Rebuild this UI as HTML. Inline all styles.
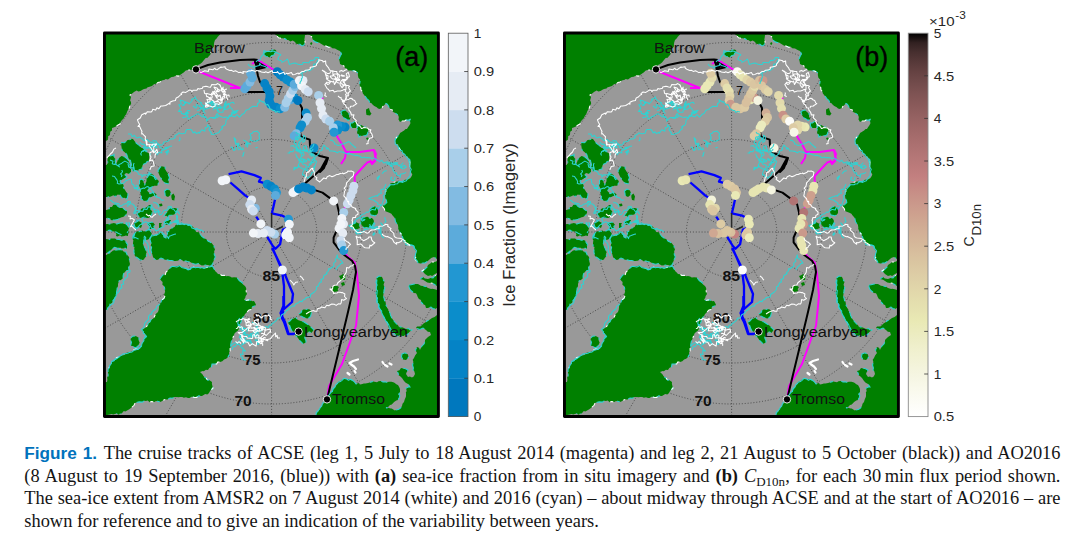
<!DOCTYPE html>
<html><head><meta charset="utf-8"><title>Figure 1</title>
<style>
html,body{margin:0;padding:0;background:#fff}
body{width:1080px;height:543px;position:relative;overflow:hidden;font-family:"Liberation Sans",sans-serif}

.cap{position:absolute;left:24.3px;width:1036.2px;height:22px;line-height:22px;font-family:"Liberation Serif",serif;font-size:18.4px;color:#141414;text-align:justify;text-align-last:justify;white-space:normal;overflow:visible}
.cap b.f{font-family:"Liberation Sans",sans-serif;font-weight:bold;font-size:17.2px;color:#0072bc;margin-right:1.2px}
.cap sub{font-size:13px;vertical-align:-3.5px;line-height:0}

</style></head><body>
<svg width="1080" height="543" viewBox="0 0 1080 543" style="position:absolute;left:0;top:0" font-family="'Liberation Sans', sans-serif">
<defs><clipPath id="clip"><rect x="105.0" y="33.5" width="333.3" height="382.5"/></clipPath>
<clipPath id="clipin"><rect x="107.5" y="36.0" width="328.3" height="377.5"/></clipPath>
<g id="base" clip-path="url(#clip)"><rect x="105.0" y="33.5" width="333.3" height="382.5" fill="#999999"/>
<g fill="none" stroke="#222" stroke-width="0.8" stroke-dasharray="1 1.9" opacity="0.8"><circle cx="271.6" cy="232.0" r="45.2"/><circle cx="271.6" cy="229.8" r="90.4"/><circle cx="271.6" cy="227.5" r="135.5"/><circle cx="271.6" cy="223.2" r="180.8"/><line x1="271.6" y1="232.0" x2="271.6" y2="562.0"/><line x1="271.6" y1="232.0" x2="436.6" y2="517.8"/><line x1="271.6" y1="232.0" x2="557.4" y2="397.0"/><line x1="271.6" y1="232.0" x2="601.6" y2="232.0"/><line x1="271.6" y1="232.0" x2="557.4" y2="67.0"/><line x1="271.6" y1="232.0" x2="436.6" y2="-53.8"/><line x1="271.6" y1="232.0" x2="271.6" y2="-98.0"/><line x1="271.6" y1="232.0" x2="106.6" y2="-53.8"/><line x1="271.6" y1="232.0" x2="-14.2" y2="67.0"/><line x1="271.6" y1="232.0" x2="-58.4" y2="232.0"/><line x1="271.6" y1="232.0" x2="-14.2" y2="397.0"/><line x1="271.6" y1="232.0" x2="106.6" y2="517.8"/></g>
<path d="M100.0 30.0 L220.0 30.0 L220.0 34.5 L218.0 36.6 L216.4 38.8 L215.0 40.0 L214.2 42.5 L213.9 44.7 L214.0 46.3 L212.9 47.9 L212.0 50.0 L210.7 51.8 L210.3 54.8 L209.0 56.0 L207.7 57.8 L205.7 58.1 L204.0 60.0 L202.0 62.4 L199.8 64.2 L198.0 65.0 L197.4 67.5 L196.0 69.0 L193.8 70.0 L191.3 70.1 L190.3 70.0 L188.0 70.0 L185.8 70.6 L183.7 72.4 L182.9 72.9 L180.0 75.0 L178.4 76.1 L175.5 75.7 L173.8 76.8 L171.6 77.1 L170.0 78.0 L168.0 79.4 L165.6 79.1 L164.8 79.7 L161.8 80.5 L160.0 82.0 L157.9 82.4 L156.8 83.6 L153.9 84.3 L152.0 86.0 L150.4 86.4 L147.2 87.6 L146.6 88.4 L144.0 89.0 L142.9 89.5 L140.5 90.9 L138.3 91.5 L136.7 90.6 L134.0 92.0 L131.9 93.8 L130.0 95.0 L131.0 97.2 L130.1 100.5 L131.0 102.0 L131.1 103.7 L129.7 106.3 L129.5 107.6 L128.0 110.0 L127.4 111.1 L126.2 114.3 L124.8 116.0 L124.0 118.0 L122.1 120.0 L120.9 121.3 L120.0 124.0 L118.1 124.9 L115.4 126.8 L113.6 127.6 L112.0 128.0 L112.0 130.6 L110.2 131.8 L110.0 135.0 L108.0 136.6 L107.9 139.7 L106.0 141.0 L100.0 141.0 Z M263.5 54.0 L266.0 51.5 L268.0 51.4 L270.0 50.5 L273.4 49.7 L275.0 49.5 L276.5 51.0 L274.5 53.4 L274.0 55.0 L271.6 55.6 L270.0 57.5 L267.8 56.7 L266.0 56.5 Z M275.0 30.0 L275.0 34.5 L276.5 35.0 L278.4 37.7 L280.0 38.0 L281.8 38.3 L284.8 38.5 L287.0 40.0 L288.3 40.0 L290.4 41.5 L292.7 40.6 L295.0 42.0 L296.1 43.7 L297.8 44.1 L300.0 44.3 L302.0 46.0 L303.8 45.2 L305.0 43.0 L305.0 40.9 L304.3 39.5 L304.7 37.8 L305.0 35.0 L307.7 34.4 L310.0 35.0 L311.7 36.7 L313.0 40.0 L314.6 41.5 L317.0 42.6 L319.0 42.5 L321.4 43.9 L324.2 45.7 L326.0 46.0 L329.0 47.4 L330.5 46.4 L332.2 48.3 L335.0 48.5 L337.6 49.9 L340.0 51.0 L341.5 54.0 L340.4 55.7 L339.0 59.0 L339.8 62.3 L340.0 64.0 L342.5 65.2 L344.1 66.2 L345.0 68.0 L346.7 68.4 L348.4 70.5 L351.0 70.5 L353.5 70.7 L355.6 71.4 L358.0 73.0 L357.8 74.9 L358.4 77.7 L360.1 79.4 L360.0 82.0 L359.6 84.3 L359.8 86.5 L360.7 87.2 L361.0 90.0 L362.5 91.7 L362.9 93.6 L364.1 95.1 L366.1 97.6 L367.0 99.0 L368.8 100.4 L369.8 102.7 L371.2 103.1 L373.0 105.0 L374.3 106.1 L376.7 107.3 L378.0 108.5 L379.6 108.9 L382.0 108.0 L382.6 106.7 L384.1 105.3 L386.0 103.5 L387.5 104.4 L389.0 107.0 L390.5 109.4 L392.1 109.8 L393.0 112.0 L394.8 112.7 L398.0 115.0 L398.8 116.9 L398.5 119.4 L400.0 122.0 L401.7 120.9 L404.7 121.0 L406.0 120.0 L408.6 120.1 L410.5 119.0 L409.6 120.4 L410.5 123.0 L409.6 125.0 L407.7 127.7 L407.0 129.0 L405.6 129.1 L404.1 130.6 L401.3 132.2 L400.0 133.0 L399.5 134.3 L397.6 136.5 L396.0 138.0 L395.0 141.0 L395.9 143.7 L398.0 144.2 L399.0 147.8 L400.3 149.6 L400.6 151.0 L402.8 152.4 L404.3 153.2 L405.0 156.3 L407.3 156.2 L409.0 158.4 L410.0 160.1 L409.8 163.5 L409.6 166.1 L410.7 167.6 L410.1 169.9 L410.7 171.4 L412.3 174.5 L411.7 175.9 L410.2 178.3 L408.0 179.6 L404.9 179.7 L402.5 181.4 L400.0 181.4 L397.0 181.4 L394.2 182.2 L392.7 182.9 L390.5 183.3 L389.7 185.5 L387.5 187.8 L385.9 188.8 L385.8 191.4 L386.1 192.8 L385.0 195.2 L385.3 197.9 L386.4 200.5 L386.8 202.6 L384.9 204.3 L382.2 206.3 L384.2 208.5 L385.0 210.9 L386.8 211.7 L389.4 212.8 L391.4 213.7 L392.6 215.5 L394.4 217.4 L395.0 219.2 L395.5 221.9 L396.4 223.1 L397.9 224.7 L398.3 227.6 L398.2 228.8 L399.7 232.0 L401.7 234.7 L402.0 236.0 L403.2 238.7 L403.8 239.8 L404.5 242.0 L406.0 244.0 L408.5 245.2 L410.4 244.9 L412.5 245.2 L414.0 246.0 L414.7 249.3 L416.0 251.0 L416.3 253.0 L415.9 254.6 L416.1 256.6 L415.0 259.0 L416.3 260.9 L418.0 263.0 L420.5 263.4 L423.1 263.1 L425.0 263.0 L426.4 262.0 L428.7 260.2 L430.0 259.0 L431.7 257.8 L434.0 257.0 L437.0 259.0 L437.0 261.0 L434.9 261.9 L432.0 262.0 L430.6 263.2 L428.0 265.0 L427.2 267.0 L425.0 269.0 L422.0 271.0 L423.1 271.7 L425.0 274.0 L428.0 276.0 L430.8 275.3 L432.0 276.0 L435.0 274.0 L437.0 273.0 L437.0 275.0 L434.8 275.8 L433.0 278.0 L431.3 277.7 L428.0 279.0 L424.8 278.4 L423.0 277.0 L420.0 279.0 L423.1 279.8 L425.0 281.0 L427.3 282.6 L430.0 283.0 L432.3 283.2 L434.2 284.3 L437.0 286.0 L440.1 286.3 L442.0 286.0 L442.0 30.0 Z M311.0 42.0 L312.5 43.0 L311.5 45.0 L310.0 44.0 Z M409.0 285.0 L411.0 284.7 L414.0 284.0 L415.3 284.0 L418.0 284.0 L420.9 285.7 L423.0 286.0 L425.8 286.4 L428.0 288.0 L431.1 289.1 L432.1 288.8 L434.9 289.3 L437.0 290.0 L438.9 289.6 L442.0 290.0 L442.0 308.0 L440.2 308.5 L437.0 308.0 L435.0 309.0 L432.6 308.4 L431.0 307.0 L427.8 308.0 L426.0 308.0 L425.2 305.3 L423.0 304.0 L421.3 302.4 L421.0 300.0 L418.9 299.1 L417.7 296.9 L417.0 295.0 L416.0 293.2 L413.9 293.0 L411.5 291.0 L409.8 289.2 L408.9 286.7 Z M442.0 315.0 L439.3 315.3 L437.0 315.0 L434.6 317.0 L432.0 318.0 L429.6 319.7 L427.2 320.8 L426.0 322.0 L423.8 323.3 L422.0 325.0 L420.4 326.6 L417.0 326.5 L416.0 328.0 L418.6 329.1 L420.0 329.5 L423.0 328.0 L426.0 330.0 L427.8 331.7 L430.0 332.0 L431.0 335.0 L428.0 337.0 L425.7 339.2 L425.0 340.0 L424.9 341.9 L424.0 344.0 L422.0 346.0 L421.1 347.4 L420.0 350.0 L419.0 347.7 L417.0 347.0 L415.5 350.0 L417.0 353.0 L415.1 355.5 L414.0 358.0 L412.7 359.7 L413.4 362.0 L412.5 365.0 L413.4 368.0 L413.0 370.0 L414.3 371.3 L415.0 374.0 L413.7 376.5 L412.0 377.5 L409.9 376.5 L408.0 377.0 L406.0 374.0 L406.5 372.5 L408.0 370.0 L405.0 368.5 L403.2 368.5 L401.0 368.0 L399.5 370.3 L397.0 371.0 L398.0 373.0 L398.8 375.5 L399.9 376.1 L402.0 378.0 L404.0 381.0 L405.7 382.8 L408.0 384.0 L410.0 387.0 L408.6 387.0 L406.0 388.0 L406.7 390.9 L405.8 392.6 L406.0 393.3 L406.0 396.0 L405.8 397.1 L404.8 399.2 L404.0 402.1 L402.5 403.7 L402.0 406.0 L400.7 408.0 L398.8 409.3 L396.0 410.0 L394.8 410.4 L391.7 408.6 L390.8 408.5 L388.1 407.7 L386.0 408.0 L388.1 407.1 L390.0 405.0 L391.8 404.6 L394.1 402.0 L396.3 400.6 L398.0 400.0 L399.3 397.4 L399.9 395.7 L398.7 394.3 L400.0 392.0 L400.0 389.0 L399.4 387.6 L398.0 385.0 L396.7 384.6 L394.0 382.5 L391.5 381.8 L388.9 381.8 L387.0 382.2 L385.5 381.9 L383.0 382.0 L380.5 381.0 L378.5 381.3 L377.0 382.3 L375.8 381.9 L373.0 381.5 L371.3 381.9 L368.0 383.0 L365.4 383.6 L363.9 383.6 L361.4 384.2 L360.0 384.5 L358.5 383.1 L356.0 384.0 L354.1 381.5 L352.0 380.0 L349.1 379.3 L347.5 378.9 L345.1 379.2 L344.0 379.0 L342.2 379.5 L339.7 381.5 L338.0 382.0 L337.5 383.6 L335.9 385.9 L334.0 388.0 L332.6 389.1 L332.5 391.2 L330.8 393.1 L328.8 394.2 L328.0 397.2 L326.5 398.9 L326.0 400.0 L324.3 401.4 L324.3 402.5 L322.5 404.5 L321.6 407.0 L320.0 408.0 L319.4 409.3 L318.5 411.5 L316.5 412.4 L316.0 415.0 L316.0 420.0 L442.0 420.0 Z M402.0 354.0 L405.0 352.8 L408.0 354.5 L408.5 357.5 L406.0 360.0 L403.0 359.5 L401.5 357.0 Z M376.5 278.0 L379.0 276.0 L382.0 277.0 L382.9 279.0 L384.5 282.0 L383.6 284.6 L383.8 285.6 L384.9 287.9 L384.0 290.0 L384.0 291.3 L383.6 293.8 L383.2 295.5 L384.0 298.0 L384.6 300.9 L385.6 302.1 L386.0 305.0 L387.2 307.9 L388.3 309.2 L388.2 310.2 L390.0 313.0 L390.4 314.9 L391.7 317.8 L392.4 319.1 L394.0 321.0 L395.2 322.5 L398.2 325.5 L399.0 327.0 L400.5 326.8 L403.4 327.8 L406.0 329.0 L408.7 328.5 L409.8 329.8 L412.0 330.0 L409.3 332.0 L408.0 334.0 L406.0 334.7 L404.0 336.0 L402.6 335.9 L400.5 335.5 L398.0 336.0 L395.9 335.0 L393.2 332.7 L392.0 332.0 L390.6 330.8 L389.2 328.4 L388.4 326.7 L388.0 325.0 L387.4 322.4 L385.3 320.6 L385.7 319.1 L384.0 317.0 L382.7 314.7 L381.3 312.3 L380.8 310.7 L380.0 309.0 L378.5 306.8 L379.3 304.2 L377.6 302.4 L377.0 300.0 L377.4 298.3 L376.8 296.3 L375.9 294.8 L376.0 291.5 L376.5 290.0 L376.7 288.0 L376.6 285.8 L376.8 284.3 L375.8 282.2 L376.9 280.5 Z M341.0 111.5 L342.5 110.8 L345.0 110.0 L347.2 112.3 L349.0 113.5 L349.0 116.7 L350.5 119.0 L348.0 120.5 L346.0 118.9 L344.0 118.0 L342.2 115.4 L341.3 113.2 Z M366.0 109.5 L369.0 108.0 L369.5 110.1 L370.4 112.3 L371.5 113.5 L370.0 115.5 L366.5 115.0 L366.1 112.7 Z M350.5 123.0 L352.4 122.9 L355.0 121.0 L357.5 124.0 L356.7 125.7 L356.0 128.0 L354.9 127.9 L352.0 128.0 L350.4 126.0 Z M357.0 128.0 L358.2 125.9 L361.0 125.0 L362.2 125.4 L364.2 127.0 L367.0 127.0 L368.3 129.8 L368.0 132.0 L367.1 134.7 L365.0 136.0 L363.8 135.6 L360.6 135.9 L359.0 137.0 L358.6 135.1 L357.0 133.0 L357.3 131.4 Z M366.0 138.0 L368.0 137.5 L369.0 139.0 L367.0 140.0 Z M370.0 209.0 L372.2 207.1 L374.0 206.5 L375.1 206.4 L378.0 208.0 L378.0 209.9 L378.0 213.0 L377.1 214.3 L375.0 216.0 L373.8 215.6 L371.0 215.0 L370.3 213.1 L370.0 210.6 Z M361.0 219.0 L363.1 217.3 L366.0 217.0 L367.4 216.8 L369.7 218.2 L372.0 218.0 L373.7 219.9 L374.0 223.0 L371.9 226.2 L371.0 228.0 L369.4 227.8 L367.1 227.5 L364.0 228.0 L362.9 226.6 L361.0 224.0 L360.5 221.4 Z M352.0 224.0 L354.8 223.5 L356.0 222.0 L358.8 223.5 L360.0 224.0 L359.1 225.9 L360.0 228.0 L357.4 229.1 L356.0 230.0 L353.5 229.1 L352.0 228.0 L351.7 226.6 Z M339.0 276.0 L341.1 275.3 L343.0 274.0 L346.0 276.0 L345.5 277.3 L345.0 280.0 L342.8 279.7 L341.0 281.0 L340.2 278.3 Z M331.0 287.0 L333.4 286.7 L335.0 285.0 L336.5 285.4 L339.0 287.0 L337.8 289.1 L338.0 291.0 L335.6 291.8 L333.0 292.0 L332.3 289.2 Z M341.0 283.0 L344.0 282.0 L345.0 285.0 L342.0 286.0 Z M288.3 321.8 L289.9 321.0 L291.8 318.9 L293.2 318.8 L295.8 317.4 L297.8 319.9 L300.8 320.9 L303.7 321.8 L306.7 323.8 L308.8 325.0 L310.7 326.8 L313.1 329.0 L313.7 329.8 L311.7 332.8 L308.7 331.8 L305.7 333.8 L305.4 336.2 L304.7 337.7 L306.1 341.0 L305.7 342.7 L302.8 343.7 L301.4 342.2 L299.8 340.7 L297.8 337.7 L295.8 335.8 L294.2 333.8 L293.9 331.7 L291.8 330.8 L290.6 328.3 L289.8 325.8 L288.2 323.1 Z M160.0 279.0 L160.6 278.0 L163.1 274.7 L165.3 274.6 L166.0 272.0 L167.8 270.5 L169.8 268.4 L171.0 267.0 L173.8 265.9 L176.0 266.6 L178.3 265.7 L180.0 266.0 L181.5 266.9 L183.6 267.8 L186.5 268.5 L188.0 270.0 L190.4 269.2 L191.5 268.0 L194.0 267.0 L195.9 267.5 L198.6 267.8 L200.3 268.3 L202.3 267.8 L204.0 268.0 L206.9 267.4 L208.1 266.8 L209.4 266.8 L212.0 266.0 L213.1 267.2 L214.0 268.7 L215.3 271.3 L216.7 272.6 L218.0 274.0 L220.0 274.2 L221.9 275.5 L224.4 275.3 L226.3 276.3 L228.0 276.0 L230.1 276.5 L231.8 277.6 L234.1 277.3 L236.9 277.6 L238.0 279.0 L239.2 280.5 L242.3 282.7 L242.8 284.3 L245.0 286.0 L246.2 288.0 L246.1 290.1 L246.3 291.9 L247.0 294.0 L245.5 296.3 L245.6 297.1 L244.0 300.0 L246.4 300.4 L247.7 300.0 L250.0 299.9 L252.5 301.3 L254.0 301.0 L255.2 302.9 L256.0 305.0 L254.5 305.9 L251.7 307.3 L251.6 309.5 L249.0 310.0 L246.5 312.4 L244.9 314.3 L244.0 316.0 L242.2 318.3 L241.2 319.9 L241.2 321.8 L240.0 324.0 L238.5 325.6 L238.8 328.9 L237.8 330.7 L236.0 332.0 L234.5 333.6 L233.7 336.1 L232.8 337.7 L232.0 340.0 L231.3 341.5 L230.7 344.5 L231.0 345.8 L230.0 348.0 L230.2 351.1 L229.1 352.0 L229.2 354.8 L228.0 357.0 L226.2 358.8 L224.1 359.4 L222.3 361.3 L220.0 362.0 L217.7 362.0 L216.7 363.9 L213.6 363.9 L212.0 364.0 L211.5 366.7 L209.3 368.1 L208.0 370.0 L205.9 369.7 L203.9 371.3 L202.7 370.9 L200.0 372.0 L202.4 374.2 L203.3 375.8 L204.5 377.2 L206.0 378.0 L207.7 380.2 L209.1 379.9 L212.0 382.0 L211.9 383.8 L212.6 386.7 L213.0 388.0 L211.1 390.1 L210.3 390.6 L209.0 393.0 L207.3 394.4 L205.2 394.1 L202.0 395.9 L200.0 396.0 L198.7 395.9 L196.6 397.4 L194.6 397.5 L191.4 396.8 L189.6 397.9 L188.0 398.0 L186.0 397.2 L183.9 397.8 L182.2 397.1 L180.0 397.0 L178.7 397.2 L176.2 396.9 L174.6 397.1 L172.4 398.2 L170.0 398.0 L167.5 399.5 L165.7 399.4 L163.8 400.1 L161.3 401.6 L160.0 402.0 L158.6 401.5 L156.0 401.0 L154.3 402.0 L151.2 401.6 L149.7 402.2 L147.7 400.4 L146.0 401.0 L144.3 400.8 L142.4 402.1 L139.1 401.9 L137.3 402.2 L135.0 403.0 L134.1 405.3 L132.0 407.1 L130.0 408.7 L128.0 410.0 L125.3 411.5 L123.8 411.1 L121.7 413.5 L120.0 414.0 L118.4 414.8 L116.5 413.5 L113.3 414.5 L111.5 413.9 L109.8 414.5 L107.0 415.0 L100.0 420.0 L100.0 382.0 L101.6 382.2 L104.6 382.2 L107.0 382.0 L107.4 379.8 L107.1 377.4 L108.1 375.8 L108.0 373.8 L108.0 372.0 L107.9 369.7 L108.7 368.0 L110.2 366.1 L110.5 364.8 L112.0 362.0 L113.9 360.8 L115.2 359.2 L116.6 357.7 L118.8 357.0 L120.0 356.0 L122.9 355.2 L124.7 355.1 L125.8 353.0 L127.8 352.5 L130.0 352.0 L132.8 351.3 L133.4 350.2 L135.5 349.1 L138.2 349.2 L140.0 348.0 L140.2 346.8 L142.2 343.7 L143.4 341.2 L143.9 340.6 L144.6 337.2 L146.0 336.0 L144.9 333.6 L143.4 332.4 L142.0 330.0 L143.8 328.7 L145.8 327.5 L147.7 325.0 L148.3 323.0 L150.0 322.0 L151.1 319.6 L152.9 319.1 L154.0 317.5 L155.3 314.5 L156.6 313.3 L158.0 312.0 L158.7 309.7 L158.8 308.9 L159.2 305.6 L160.0 304.0 L160.9 302.3 L161.7 300.0 L163.9 298.5 L165.0 296.0 L164.0 294.9 L165.1 291.8 L164.9 290.4 L164.5 287.5 L164.0 286.0 L162.4 284.7 L162.6 281.9 L161.5 281.0 Z M131.0 338.0 L132.6 336.2 L135.0 336.0 L136.8 336.4 L139.0 338.0 L138.7 340.7 L139.7 342.6 L139.0 344.0 L137.8 346.5 L135.0 348.0 L132.8 346.1 L131.0 346.0 L130.9 343.8 L131.5 342.8 L130.6 339.6 Z M150.0 239.0 L150.7 237.7 L152.0 235.0 L154.8 235.5 L156.0 236.0 L157.9 234.0 L160.0 232.0 L160.6 232.9 L163.5 234.9 L163.9 236.9 L166.0 238.0 L167.2 236.0 L167.5 233.3 L167.0 232.0 L169.4 231.2 L169.6 229.7 L172.0 228.0 L174.6 227.1 L175.5 225.0 L178.0 224.0 L179.6 224.4 L181.2 224.3 L184.0 224.0 L186.0 224.2 L188.3 225.5 L190.0 225.0 L192.8 226.7 L194.0 228.0 L195.6 229.7 L196.0 232.0 L198.8 232.3 L200.0 234.0 L201.8 236.4 L204.0 238.0 L206.6 239.4 L208.2 241.2 L210.0 242.0 L211.6 243.1 L214.0 246.0 L214.5 248.5 L215.0 249.5 L214.2 251.3 L214.3 254.9 L215.2 256.1 L215.0 258.0 L214.1 259.5 L212.9 262.8 L212.9 263.7 L211.0 266.0 L208.0 265.0 L206.2 265.1 L204.4 265.2 L201.7 265.5 L200.0 264.5 L198.5 263.5 L195.8 264.3 L193.5 263.8 L192.0 263.0 L189.7 261.7 L187.9 261.7 L186.0 261.0 L183.1 261.2 L182.4 260.3 L180.0 259.5 L177.7 260.7 L175.2 261.0 L174.0 261.0 L171.6 260.4 L169.5 260.4 L168.0 260.0 L165.3 259.7 L163.9 259.2 L161.0 258.0 L159.3 258.9 L157.0 260.0 L154.8 259.3 L153.0 257.0 L152.3 254.2 L151.5 252.3 L151.0 250.0 L151.6 247.3 L150.7 246.0 L151.2 243.2 L150.3 241.0 Z M133.0 236.0 L133.9 234.4 L136.0 232.0 L137.7 231.3 L140.8 231.3 L142.0 231.5 L143.3 233.9 L144.0 236.0 L144.3 238.7 L143.7 240.5 L143.7 242.6 L143.0 244.0 L143.7 245.9 L144.7 247.3 L146.0 250.0 L146.6 252.7 L146.0 253.7 L146.5 256.0 L144.4 258.5 L144.0 259.5 L142.4 260.0 L140.0 260.0 L138.0 258.2 L136.0 257.0 L134.7 255.6 L133.9 252.0 L134.0 250.0 L134.5 246.9 L133.1 246.2 L133.0 243.0 L133.4 240.2 L132.5 238.9 Z M100.0 239.0 L102.9 238.7 L104.5 239.2 L106.5 239.0 L109.0 239.6 L110.6 238.6 L112.5 238.4 L115.0 238.5 L116.2 239.2 L119.3 239.4 L121.3 240.2 L123.0 240.0 L125.1 240.6 L126.7 243.5 L127.5 244.0 L127.0 246.3 L127.0 249.0 L125.4 248.3 L121.6 248.6 L120.0 247.5 L118.2 248.4 L114.6 247.3 L113.0 248.5 L111.5 249.6 L109.4 251.7 L106.5 253.0 L103.8 253.8 L102.5 253.5 L100.0 253.0 Z M100.0 255.0 L102.4 255.3 L103.5 254.7 L106.5 255.0 L108.6 253.3 L110.4 252.7 L113.0 250.5 L114.5 250.2 L118.4 249.8 L120.0 249.5 L122.1 249.9 L123.4 251.4 L126.0 252.0 L127.3 255.1 L129.0 257.0 L129.5 259.7 L129.2 260.9 L130.0 264.0 L129.3 265.9 L128.6 267.6 L129.0 270.0 L125.8 271.0 L124.0 273.0 L123.2 275.0 L123.0 278.0 L121.5 279.5 L119.0 281.0 L118.0 284.0 L118.0 286.0 L117.1 288.5 L117.0 289.8 L116.5 292.2 L116.6 294.4 L116.0 296.0 L115.0 297.4 L114.0 299.4 L113.0 300.6 L112.0 303.0 L110.0 304.0 L109.7 305.7 L107.5 308.0 L107.0 310.0 L104.1 310.1 L101.7 310.8 L100.0 310.0 Z M121.5 142.5 L124.3 142.7 L125.9 141.7 L127.6 140.1 L129.7 139.8 L131.5 138.7 L133.0 139.0 L134.1 140.4 L136.5 143.4 L138.9 145.1 L140.0 146.0 L141.3 147.8 L143.4 148.5 L145.2 150.3 L146.0 151.5 L148.2 153.0 L150.5 154.0 L149.1 156.1 L149.2 158.0 L149.0 161.0 L146.9 161.6 L145.9 163.1 L143.0 164.5 L142.3 165.9 L142.0 169.0 L138.9 169.8 L138.3 170.5 L135.7 170.0 L133.0 171.5 L132.1 169.8 L131.1 166.7 L131.4 164.4 L131.0 163.0 L130.5 160.5 L129.0 159.1 L127.2 156.2 L127.0 155.0 L125.5 152.9 L123.2 151.1 L122.0 150.0 L121.5 147.1 L121.2 144.9 Z M100.0 165.0 L102.0 165.1 L104.9 164.9 L106.5 165.0 L107.8 163.3 L107.5 160.0 L107.9 157.1 L110.0 156.0 L112.9 155.2 L114.0 154.5 L114.1 157.6 L115.5 159.0 L115.2 161.5 L116.0 164.0 L117.1 161.9 L118.0 159.0 L119.3 157.8 L121.5 156.0 L125.0 157.0 L128.0 159.5 L129.3 162.7 L130.0 165.0 L130.0 166.9 L131.0 169.1 L131.0 172.0 L129.5 174.0 L126.0 173.0 L124.5 174.5 L127.0 177.0 L124.9 178.6 L123.0 179.0 L120.0 181.0 L120.7 182.9 L123.0 184.0 L123.7 185.8 L123.5 187.7 L125.0 190.0 L126.2 192.0 L128.0 194.0 L127.8 195.9 L127.0 199.0 L124.5 197.8 L122.0 198.0 L120.0 195.0 L117.7 194.5 L115.5 196.4 L113.2 195.3 L112.0 196.0 L110.0 196.8 L106.5 197.0 L104.4 197.1 L101.7 196.4 L100.0 197.0 Z M158.0 170.6 L159.9 167.7 L161.6 166.2 L165.0 167.0 L165.3 169.8 L166.3 171.2 L167.8 173.3 L168.6 175.4 L169.5 177.7 L168.4 180.4 L168.9 182.1 L168.2 183.9 L165.0 183.0 L162.5 180.4 L160.9 178.0 L159.8 176.0 L158.4 172.7 Z M139.5 180.4 L141.2 179.0 L143.5 180.4 L143.4 182.0 L144.8 184.8 L146.5 181.2 L146.6 178.6 L148.3 175.9 L150.5 173.3 L153.6 175.0 L154.5 176.7 L156.3 178.6 L158.4 180.4 L158.9 182.1 L157.2 185.7 L154.1 185.8 L152.7 186.5 L149.2 188.3 L147.4 191.0 L150.0 193.6 L153.6 192.3 L156.3 194.0 L156.7 196.3 L154.8 195.6 L152.7 196.3 L149.2 198.0 L147.4 201.2 L143.9 200.7 L141.2 199.0 L141.4 196.2 L140.4 193.6 L140.3 191.3 L140.8 189.2 L139.5 186.8 L139.0 184.8 L139.6 183.0 Z M164.5 191.0 L167.0 189.0 L170.0 190.5 L171.0 193.3 L170.5 195.0 L168.0 197.0 L165.0 195.5 L165.1 194.1 Z M100.0 210.0 L101.5 210.2 L103.6 210.0 L106.5 210.0 L108.7 209.3 L110.0 207.0 L112.0 206.9 L113.2 205.0 L116.0 204.0 L117.6 206.0 L119.0 207.0 L120.2 208.0 L123.0 208.0 L125.3 210.1 L127.0 211.0 L127.1 212.4 L126.0 215.0 L123.1 216.9 L121.6 217.3 L120.0 218.0 L117.6 219.6 L115.0 220.0 L111.6 220.2 L110.0 219.0 L106.5 218.0 L104.5 218.6 L102.3 217.5 L100.0 218.0 Z M137.0 214.0 L139.0 212.0 L140.0 211.0 L141.1 209.0 L143.0 208.0 L145.1 208.0 L147.0 207.0 L149.0 205.0 L152.0 205.0 L150.7 207.6 L151.0 210.0 L152.3 211.4 L152.0 214.0 L150.0 217.0 L148.3 218.0 L145.0 218.0 L141.6 217.4 L140.0 218.0 L137.9 215.3 Z M159.0 204.0 L162.0 203.5 L162.5 206.0 L159.5 206.5 Z M164.0 216.0 L165.3 214.0 L167.0 212.0 L168.3 210.6 L170.0 208.0 L171.6 207.9 L175.0 208.0 L178.0 209.0 L176.9 210.4 L176.0 213.0 L174.1 214.5 L172.0 215.0 L169.2 215.2 L168.0 217.0 L166.3 215.8 Z M164.0 222.0 L165.3 221.3 L168.0 220.0 L171.0 220.0 L170.0 223.0 L167.6 224.4 L166.0 225.0 Z M159.0 223.0 L162.0 223.0 L161.1 224.7 L162.0 228.0 L159.0 228.0 L159.0 225.4 Z M148.0 223.0 L150.1 222.5 L152.0 222.0 L153.4 222.8 L155.0 225.0 L153.9 226.4 L154.0 229.0 L152.2 229.1 L149.0 229.0 L149.5 226.7 L147.4 224.4 Z M134.0 223.0 L135.2 222.8 L138.0 221.0 L139.4 221.4 L142.0 223.0 L141.9 225.8 L141.0 228.0 L139.0 227.1 L136.0 228.0 L134.7 226.3 Z M100.0 224.0 L102.2 223.6 L104.9 224.8 L106.5 224.0 L109.5 224.0 L112.0 223.5 L113.9 223.0 L116.9 224.1 L117.4 223.8 L120.0 223.0 L122.9 222.9 L123.7 224.0 L126.0 224.0 L127.6 225.4 L129.0 228.0 L128.0 231.4 L127.0 233.0 L124.2 233.7 L122.0 235.0 L119.7 233.9 L118.1 233.2 L116.0 232.0 L114.8 231.6 L111.6 231.2 L110.0 230.0 L106.5 231.0 L104.1 231.3 L102.1 230.5 L100.0 231.0 Z M134.0 238.0 L134.0 236.4 L135.0 233.0 L138.1 232.6 L140.0 231.0 L142.8 230.4 L143.2 231.5 L146.0 231.0 L148.0 229.7 L150.0 230.0 L150.5 231.4 L152.0 234.0 L151.7 235.4 L150.0 238.0 L148.2 239.6 L146.0 240.0 L143.1 240.4 L141.7 238.7 L140.0 239.0 L137.8 238.8 L135.4 237.5 Z M116.0 230.0 L118.1 229.3 L120.4 230.1 L122.2 229.5 L124.3 230.4 L126.5 230.3 L128.0 230.0 L128.8 231.9 L128.0 234.8 L128.0 236.0 L125.7 235.5 L124.6 236.1 L121.3 236.4 L120.2 235.3 L117.5 236.4 L116.0 236.0 L116.4 233.9 L115.4 232.7 Z M171.5 195.0 L173.5 193.6 L175.0 196.5 L174.4 199.3 L174.5 200.5 L172.0 200.0 L171.3 197.1 Z M298.8 313.9 L301.1 312.6 L301.8 310.9 L303.1 309.5 L305.7 309.4 L307.6 309.0 L309.7 309.4 L311.7 311.4 L311.2 313.6 L310.7 315.9 L309.2 317.8 L307.2 318.4 L303.7 317.4 L300.8 315.9 Z" fill="#008000"/>
<text x="262.4" y="281.2" textLength="17.6" lengthAdjust="spacingAndGlyphs" font-weight="bold" font-size="14.4" fill="#111">85</text>
<text x="244.0" y="365.4" textLength="16.5" lengthAdjust="spacingAndGlyphs" font-weight="bold" font-size="14.4" fill="#111">75</text>
<text x="234.4" y="406.2" textLength="17.2" lengthAdjust="spacingAndGlyphs" font-weight="bold" font-size="14.4" fill="#111">70</text>
<text x="253" y="323" textLength="17" lengthAdjust="spacingAndGlyphs" font-weight="bold" font-size="14.4" fill="#111">80</text>
<text x="276" y="94.6" textLength="7" lengthAdjust="spacingAndGlyphs" font-size="13.6" fill="#111">7</text>
<path d="M196.0 69.4 L200.0 72.0 L240.0 88.0 L230.0 88.0 M240.0 88.0 L246.0 84.0 M252.0 64.0 L258.0 60.0 L266.0 65.0 L274.0 70.0 M316.0 93.0 L323.0 99.0 M334.0 130.0 L338.0 138.0 L342.0 144.0 L346.0 152.0 L360.0 152.0 L374.0 150.0 L376.0 154.0 L374.0 162.0 L368.0 162.0 L364.9 165.0 L354.7 176.0 L354.7 183.0 M346.0 152.0 L345.0 158.0 L341.0 164.0 M374.0 150.0 L376.0 160.0 L372.0 164.0 L370.0 160.0 M343.5 209.5 L345.5 207.0 M344.0 252.0 L347.4 256.2 L354.7 262.6 L357.0 274.0 L359.0 296.0 L356.0 326.0 L350.0 342.0 L342.0 364.0 L329.0 386.0 L327.0 399.4" fill="none" stroke="#ff00ff" stroke-width="2" stroke-linejoin="round"/>
<path d="M196.0 69.4 L208.0 65.0 L220.0 62.5 L240.0 60.0 L254.0 59.5 L258.0 60.0 M256.0 66.0 L258.0 76.0 L260.0 82.0 L266.0 88.0 M254.0 60.0 L266.0 67.0 L258.0 69.0 L255.0 62.0 L262.0 66.0 L257.0 64.0 L260.0 67.5 M244.0 92.0 L266.0 92.0 M298.0 100.5 L302.0 108.0 L302.0 120.0 L300.0 132.0 L301.0 136.7 L309.7 139.6 L310.0 146.0 L312.0 152.0 L320.0 156.0 L328.0 158.0 L326.0 164.0 L318.0 172.0 L305.0 183.4 M328.0 158.0 L324.0 168.0 L320.0 172.0 L326.0 162.0 L327.0 158.0 L322.0 170.0 L321.0 169.0 L326.0 160.0 M311.0 189.0 L314.2 189.9 L322.5 192.6 L329.9 198.1 L337.2 204.6 L339.1 212.9 L339.1 220.2 L336.0 232.0 L333.6 237.7 L333.6 242.3 L339.1 249.7 L344.6 255.2 L352.0 260.8 L355.0 266.0 L356.0 272.0 L353.0 290.0 L348.0 312.0 L338.0 354.0 L327.0 399.4" fill="none" stroke="#000" stroke-width="2" stroke-linejoin="round"/>
<path d="M294.0 334.0 L288.0 334.0 L284.0 322.0 L281.0 316.0 L283.0 310.0 L292.0 302.0 L293.0 294.0 L288.0 282.0 L284.0 272.0 L280.1 264.4 L276.5 257.1 L272.8 248.8 M281.0 316.0 L284.0 306.0 L284.0 286.0 L282.0 270.0 L276.0 256.0 L272.0 248.0 M250.7 199.1 L245.1 195.4 L237.8 188.9 L230.4 182.5 M228.6 174.2 L241.5 171.4 L254.4 175.1 L260.8 177.9 L259.0 181.6 L265.4 183.4 M256.2 216.6 L259.9 222.1 M275.5 197.2 L273.7 205.5 L271.9 213.3 L282.0 215.6 L287.5 218.4 M288.4 227.6 L282.9 229.5 L281.1 238.7 L280.1 244.2 L275.5 248.8 L272.8 246.0 L267.2 236.8 M295.0 333.6 L288.6 334.2 L285.0 322.0 L282.0 316.0 L283.4 311.0 M283.4 296.0 L283.4 306.0 L280.6 313.0 L282.0 317.0" fill="none" stroke="#0000ff" stroke-width="2.3" stroke-linejoin="round"/>
<path d="M271.6 232.0 L271.6 213.0 M271.6 232.0 L283.0 226.5" fill="none" stroke="#2a2a2a" stroke-width="1.5"/></g>
<g id="over" clip-path="url(#clip)"><path d="M100.0 165.0 L102.0 165.1 L104.9 164.9 L106.5 165.0 L107.8 163.3 L107.5 160.0 L107.9 157.1 L110.0 156.0 L112.9 155.2 L114.0 154.5 L114.1 157.6 L115.5 159.0 L115.2 161.5 L116.0 164.0 L117.1 161.9 L118.0 159.0 L119.3 157.8 L121.5 156.0 L125.0 157.0 L128.0 159.5 L129.3 162.7 L130.0 165.0 L130.0 166.9 L131.0 169.1 L131.0 172.0 L129.5 174.0 L126.0 173.0 L124.5 174.5 L127.0 177.0 L124.9 178.6 L123.0 179.0 L120.0 181.0 L120.7 182.9 L123.0 184.0 L123.7 185.8 L123.5 187.7 L125.0 190.0 L126.2 192.0 L128.0 194.0 L127.8 195.9 L127.0 199.0 L124.5 197.8 L122.0 198.0 L120.0 195.0 L117.7 194.5 L115.5 196.4 L113.2 195.3 L112.0 196.0 L110.0 196.8 L106.5 197.0 L104.4 197.1 L101.7 196.4 L100.0 197.0 Z M158.0 170.6 L159.9 167.7 L161.6 166.2 L165.0 167.0 L165.3 169.8 L166.3 171.2 L167.8 173.3 L168.6 175.4 L169.5 177.7 L168.4 180.4 L168.9 182.1 L168.2 183.9 L165.0 183.0 L162.5 180.4 L160.9 178.0 L159.8 176.0 L158.4 172.7 Z M139.5 180.4 L141.2 179.0 L143.5 180.4 L143.4 182.0 L144.8 184.8 L146.5 181.2 L146.6 178.6 L148.3 175.9 L150.5 173.3 L153.6 175.0 L154.5 176.7 L156.3 178.6 L158.4 180.4 L158.9 182.1 L157.2 185.7 L154.1 185.8 L152.7 186.5 L149.2 188.3 L147.4 191.0 L150.0 193.6 L153.6 192.3 L156.3 194.0 L156.7 196.3 L154.8 195.6 L152.7 196.3 L149.2 198.0 L147.4 201.2 L143.9 200.7 L141.2 199.0 L141.4 196.2 L140.4 193.6 L140.3 191.3 L140.8 189.2 L139.5 186.8 L139.0 184.8 L139.6 183.0 Z M100.0 210.0 L101.5 210.2 L103.6 210.0 L106.5 210.0 L108.7 209.3 L110.0 207.0 L112.0 206.9 L113.2 205.0 L116.0 204.0 L117.6 206.0 L119.0 207.0 L120.2 208.0 L123.0 208.0 L125.3 210.1 L127.0 211.0 L127.1 212.4 L126.0 215.0 L123.1 216.9 L121.6 217.3 L120.0 218.0 L117.6 219.6 L115.0 220.0 L111.6 220.2 L110.0 219.0 L106.5 218.0 L104.5 218.6 L102.3 217.5 L100.0 218.0 Z M137.0 214.0 L139.0 212.0 L140.0 211.0 L141.1 209.0 L143.0 208.0 L145.1 208.0 L147.0 207.0 L149.0 205.0 L152.0 205.0 L150.7 207.6 L151.0 210.0 L152.3 211.4 L152.0 214.0 L150.0 217.0 L148.3 218.0 L145.0 218.0 L141.6 217.4 L140.0 218.0 L137.9 215.3 Z M164.0 216.0 L165.3 214.0 L167.0 212.0 L168.3 210.6 L170.0 208.0 L171.6 207.9 L175.0 208.0 L178.0 209.0 L176.9 210.4 L176.0 213.0 L174.1 214.5 L172.0 215.0 L169.2 215.2 L168.0 217.0 L166.3 215.8 Z M164.5 191.0 L167.0 189.0 L170.0 190.5 L171.0 193.3 L170.5 195.0 L168.0 197.0 L165.0 195.5 L165.1 194.1 Z M164.0 222.0 L165.3 221.3 L168.0 220.0 L171.0 220.0 L170.0 223.0 L167.6 224.4 L166.0 225.0 Z M148.0 223.0 L150.1 222.5 L152.0 222.0 L153.4 222.8 L155.0 225.0 L153.9 226.4 L154.0 229.0 L152.2 229.1 L149.0 229.0 L149.5 226.7 L147.4 224.4 Z M134.0 223.0 L135.2 222.8 L138.0 221.0 L139.4 221.4 L142.0 223.0 L141.9 225.8 L141.0 228.0 L139.0 227.1 L136.0 228.0 L134.7 226.3 Z M100.0 224.0 L102.2 223.6 L104.9 224.8 L106.5 224.0 L109.5 224.0 L112.0 223.5 L113.9 223.0 L116.9 224.1 L117.4 223.8 L120.0 223.0 L122.9 222.9 L123.7 224.0 L126.0 224.0 L127.6 225.4 L129.0 228.0 L128.0 231.4 L127.0 233.0 L124.2 233.7 L122.0 235.0 L119.7 233.9 L118.1 233.2 L116.0 232.0 L114.8 231.6 L111.6 231.2 L110.0 230.0 L106.5 231.0 L104.1 231.3 L102.1 230.5 L100.0 231.0 Z M134.0 238.0 L134.0 236.4 L135.0 233.0 L138.1 232.6 L140.0 231.0 L142.8 230.4 L143.2 231.5 L146.0 231.0 L148.0 229.7 L150.0 230.0 L150.5 231.4 L152.0 234.0 L151.7 235.4 L150.0 238.0 L148.2 239.6 L146.0 240.0 L143.1 240.4 L141.7 238.7 L140.0 239.0 L137.8 238.8 L135.4 237.5 Z M133.0 236.0 L133.9 234.4 L136.0 232.0 L137.7 231.3 L140.8 231.3 L142.0 231.5 L143.3 233.9 L144.0 236.0 L144.3 238.7 L143.7 240.5 L143.7 242.6 L143.0 244.0 L143.7 245.9 L144.7 247.3 L146.0 250.0 L146.6 252.7 L146.0 253.7 L146.5 256.0 L144.4 258.5 L144.0 259.5 L142.4 260.0 L140.0 260.0 L138.0 258.2 L136.0 257.0 L134.7 255.6 L133.9 252.0 L134.0 250.0 L134.5 246.9 L133.1 246.2 L133.0 243.0 L133.4 240.2 L132.5 238.9 Z M100.0 239.0 L102.9 238.7 L104.5 239.2 L106.5 239.0 L109.0 239.6 L110.6 238.6 L112.5 238.4 L115.0 238.5 L116.2 239.2 L119.3 239.4 L121.3 240.2 L123.0 240.0 L125.1 240.6 L126.7 243.5 L127.5 244.0 L127.0 246.3 L127.0 249.0 L125.4 248.3 L121.6 248.6 L120.0 247.5 L118.2 248.4 L114.6 247.3 L113.0 248.5 L111.5 249.6 L109.4 251.7 L106.5 253.0 L103.8 253.8 L102.5 253.5 L100.0 253.0 Z M100.0 255.0 L102.4 255.3 L103.5 254.7 L106.5 255.0 L108.6 253.3 L110.4 252.7 L113.0 250.5 L114.5 250.2 L118.4 249.8 L120.0 249.5 L122.1 249.9 L123.4 251.4 L126.0 252.0 L127.3 255.1 L129.0 257.0 L129.5 259.7 L129.2 260.9 L130.0 264.0 L129.3 265.9 L128.6 267.6 L129.0 270.0 L125.8 271.0 L124.0 273.0 L123.2 275.0 L123.0 278.0 L121.5 279.5 L119.0 281.0 L118.0 284.0 L118.0 286.0 L117.1 288.5 L117.0 289.8 L116.5 292.2 L116.6 294.4 L116.0 296.0 L115.0 297.4 L114.0 299.4 L113.0 300.6 L112.0 303.0 L110.0 304.0 L109.7 305.7 L107.5 308.0 L107.0 310.0 L104.1 310.1 L101.7 310.8 L100.0 310.0 Z M150.0 239.0 L150.7 237.7 L152.0 235.0 L154.8 235.5 L156.0 236.0 L157.9 234.0 L160.0 232.0 L160.6 232.9 L163.5 234.9 L163.9 236.9 L166.0 238.0 L167.2 236.0 L167.5 233.3 L167.0 232.0 L169.4 231.2 L169.6 229.7 L172.0 228.0 L174.6 227.1 L175.5 225.0 L178.0 224.0 L179.6 224.4 L181.2 224.3 L184.0 224.0 L186.0 224.2 L188.3 225.5 L190.0 225.0 L192.8 226.7 L194.0 228.0 L195.6 229.7 L196.0 232.0 L198.8 232.3 L200.0 234.0 L201.8 236.4 L204.0 238.0 L206.6 239.4 L208.2 241.2 L210.0 242.0 L211.6 243.1 L214.0 246.0 L214.5 248.5 L215.0 249.5 L214.2 251.3 L214.3 254.9 L215.2 256.1 L215.0 258.0 L214.1 259.5 L212.9 262.8 L212.9 263.7 L211.0 266.0 L208.0 265.0 L206.2 265.1 L204.4 265.2 L201.7 265.5 L200.0 264.5 L198.5 263.5 L195.8 264.3 L193.5 263.8 L192.0 263.0 L189.7 261.7 L187.9 261.7 L186.0 261.0 L183.1 261.2 L182.4 260.3 L180.0 259.5 L177.7 260.7 L175.2 261.0 L174.0 261.0 L171.6 260.4 L169.5 260.4 L168.0 260.0 L165.3 259.7 L163.9 259.2 L161.0 258.0 L159.3 258.9 L157.0 260.0 L154.8 259.3 L153.0 257.0 L152.3 254.2 L151.5 252.3 L151.0 250.0 L151.6 247.3 L150.7 246.0 L151.2 243.2 L150.3 241.0 Z M121.5 142.5 L124.3 142.7 L125.9 141.7 L127.6 140.1 L129.7 139.8 L131.5 138.7 L133.0 139.0 L134.1 140.4 L136.5 143.4 L138.9 145.1 L140.0 146.0 L141.3 147.8 L143.4 148.5 L145.2 150.3 L146.0 151.5 L148.2 153.0 L150.5 154.0 L149.1 156.1 L149.2 158.0 L149.0 161.0 L146.9 161.6 L145.9 163.1 L143.0 164.5 L142.3 165.9 L142.0 169.0 L138.9 169.8 L138.3 170.5 L135.7 170.0 L133.0 171.5 L132.1 169.8 L131.1 166.7 L131.4 164.4 L131.0 163.0 L130.5 160.5 L129.0 159.1 L127.2 156.2 L127.0 155.0 L125.5 152.9 L123.2 151.1 L122.0 150.0 L121.5 147.1 L121.2 144.9 Z M376.5 278.0 L379.0 276.0 L382.0 277.0 L382.9 279.0 L384.5 282.0 L383.6 284.6 L383.8 285.6 L384.9 287.9 L384.0 290.0 L384.0 291.3 L383.6 293.8 L383.2 295.5 L384.0 298.0 L384.6 300.9 L385.6 302.1 L386.0 305.0 L387.2 307.9 L388.3 309.2 L388.2 310.2 L390.0 313.0 L390.4 314.9 L391.7 317.8 L392.4 319.1 L394.0 321.0 L395.2 322.5 L398.2 325.5 L399.0 327.0 L400.5 326.8 L403.4 327.8 L406.0 329.0 L408.7 328.5 L409.8 329.8 L412.0 330.0 L409.3 332.0 L408.0 334.0 L406.0 334.7 L404.0 336.0 L402.6 335.9 L400.5 335.5 L398.0 336.0 L395.9 335.0 L393.2 332.7 L392.0 332.0 L390.6 330.8 L389.2 328.4 L388.4 326.7 L388.0 325.0 L387.4 322.4 L385.3 320.6 L385.7 319.1 L384.0 317.0 L382.7 314.7 L381.3 312.3 L380.8 310.7 L380.0 309.0 L378.5 306.8 L379.3 304.2 L377.6 302.4 L377.0 300.0 L377.4 298.3 L376.8 296.3 L375.9 294.8 L376.0 291.5 L376.5 290.0 L376.7 288.0 L376.6 285.8 L376.8 284.3 L375.8 282.2 L376.9 280.5 Z M370.0 209.0 L372.2 207.1 L374.0 206.5 L375.1 206.4 L378.0 208.0 L378.0 209.9 L378.0 213.0 L377.1 214.3 L375.0 216.0 L373.8 215.6 L371.0 215.0 L370.3 213.1 L370.0 210.6 Z M361.0 219.0 L363.1 217.3 L366.0 217.0 L367.4 216.8 L369.7 218.2 L372.0 218.0 L373.7 219.9 L374.0 223.0 L371.9 226.2 L371.0 228.0 L369.4 227.8 L367.1 227.5 L364.0 228.0 L362.9 226.6 L361.0 224.0 L360.5 221.4 Z M352.0 224.0 L354.8 223.5 L356.0 222.0 L358.8 223.5 L360.0 224.0 L359.1 225.9 L360.0 228.0 L357.4 229.1 L356.0 230.0 L353.5 229.1 L352.0 228.0 L351.7 226.6 Z M341.0 111.5 L342.5 110.8 L345.0 110.0 L347.2 112.3 L349.0 113.5 L349.0 116.7 L350.5 119.0 L348.0 120.5 L346.0 118.9 L344.0 118.0 L342.2 115.4 L341.3 113.2 Z M350.5 123.0 L352.4 122.9 L355.0 121.0 L357.5 124.0 L356.7 125.7 L356.0 128.0 L354.9 127.9 L352.0 128.0 L350.4 126.0 Z M357.0 128.0 L358.2 125.9 L361.0 125.0 L362.2 125.4 L364.2 127.0 L367.0 127.0 L368.3 129.8 L368.0 132.0 L367.1 134.7 L365.0 136.0 L363.8 135.6 L360.6 135.9 L359.0 137.0 L358.6 135.1 L357.0 133.0 L357.3 131.4 Z M288.3 321.8 L289.9 321.0 L291.8 318.9 L293.2 318.8 L295.8 317.4 L297.8 319.9 L300.8 320.9 L303.7 321.8 L306.7 323.8 L308.8 325.0 L310.7 326.8 L313.1 329.0 L313.7 329.8 L311.7 332.8 L308.7 331.8 L305.7 333.8 L305.4 336.2 L304.7 337.7 L306.1 341.0 L305.7 342.7 L302.8 343.7 L301.4 342.2 L299.8 340.7 L297.8 337.7 L295.8 335.8 L294.2 333.8 L293.9 331.7 L291.8 330.8 L290.6 328.3 L289.8 325.8 L288.2 323.1 Z M298.8 313.9 L301.1 312.6 L301.8 310.9 L303.1 309.5 L305.7 309.4 L307.6 309.0 L309.7 309.4 L311.7 311.4 L311.2 313.6 L310.7 315.9 L309.2 317.8 L307.2 318.4 L303.7 317.4 L300.8 315.9 Z M131.0 338.0 L132.6 336.2 L135.0 336.0 L136.8 336.4 L139.0 338.0 L138.7 340.7 L139.7 342.6 L139.0 344.0 L137.8 346.5 L135.0 348.0 L132.8 346.1 L131.0 346.0 L130.9 343.8 L131.5 342.8 L130.6 339.6 Z M402.0 354.0 L405.0 352.8 L408.0 354.5 L408.5 357.5 L406.0 360.0 L403.0 359.5 L401.5 357.0 Z M263.5 54.0 L266.0 51.5 L268.0 51.4 L270.0 50.5 L273.4 49.7 L275.0 49.5 L276.5 51.0 L274.5 53.4 L274.0 55.0 L271.6 55.6 L270.0 57.5 L267.8 56.7 L266.0 56.5 Z" fill="none" stroke="#2fd3d3" stroke-width="1.05" stroke-dasharray="5 4 2 6 7 3" clip-path="url(#clipin)"/>
<path d="M160.0 279.0 L160.6 278.0 L163.1 274.7 L165.3 274.6 L166.0 272.0 L167.8 270.5 L169.8 268.4 L171.0 267.0 L173.8 265.9 L176.0 266.6 L178.3 265.7 L180.0 266.0 L181.5 266.9 L183.6 267.8 L186.5 268.5 L188.0 270.0 L190.4 269.2 L191.5 268.0 L194.0 267.0 L195.9 267.5 L198.6 267.8 L200.3 268.3 L202.3 267.8 L204.0 268.0 L206.9 267.4 L208.1 266.8 L209.4 266.8 L212.0 266.0 L213.1 267.2 L214.0 268.7 L215.3 271.3 L216.7 272.6 L218.0 274.0 L220.0 274.2 L221.9 275.5 L224.4 275.3 L226.3 276.3 L228.0 276.0 L230.1 276.5 L231.8 277.6 L234.1 277.3 L236.9 277.6 L238.0 279.0 L239.2 280.5 L242.3 282.7 L242.8 284.3 L245.0 286.0 L246.2 288.0 L246.1 290.1 L246.3 291.9 L247.0 294.0 L245.5 296.3 L245.6 297.1 L244.0 300.0 L246.4 300.4 L247.7 300.0 L250.0 299.9 L252.5 301.3 L254.0 301.0 L255.2 302.9 L256.0 305.0 L254.5 305.9 L251.7 307.3 L251.6 309.5 L249.0 310.0 L246.5 312.4 L244.9 314.3 L244.0 316.0 L242.2 318.3 L241.2 319.9 L241.2 321.8 L240.0 324.0 L238.5 325.6 L238.8 328.9 L237.8 330.7 L236.0 332.0 L234.5 333.6 L233.7 336.1 L232.8 337.7 L232.0 340.0 L231.3 341.5 L230.7 344.5 L231.0 345.8 L230.0 348.0 L230.2 351.1 L229.1 352.0 L229.2 354.8 L228.0 357.0 L226.2 358.8 L224.1 359.4 L222.3 361.3 L220.0 362.0 L217.7 362.0 L216.7 363.9 L213.6 363.9 L212.0 364.0 L211.5 366.7 L209.3 368.1 L208.0 370.0 L205.9 369.7 L203.9 371.3 L202.7 370.9 L200.0 372.0 L202.4 374.2 L203.3 375.8 L204.5 377.2 L206.0 378.0 L207.7 380.2 L209.1 379.9 L212.0 382.0 L211.9 383.8 L212.6 386.7 L213.0 388.0 L211.1 390.1 L210.3 390.6 L209.0 393.0 L207.3 394.4 L205.2 394.1 L202.0 395.9 L200.0 396.0 L198.7 395.9 L196.6 397.4 L194.6 397.5 L191.4 396.8 L189.6 397.9 L188.0 398.0 L186.0 397.2 L183.9 397.8 L182.2 397.1 L180.0 397.0 L178.7 397.2 L176.2 396.9 L174.6 397.1 L172.4 398.2 L170.0 398.0 L167.5 399.5 L165.7 399.4 L163.8 400.1 L161.3 401.6 L160.0 402.0 L158.6 401.5 L156.0 401.0 L154.3 402.0 L151.2 401.6 L149.7 402.2 L147.7 400.4 L146.0 401.0 L144.3 400.8 L142.4 402.1 L139.1 401.9 L137.3 402.2 L135.0 403.0 L134.1 405.3 L132.0 407.1 L130.0 408.7 L128.0 410.0 L125.3 411.5 L123.8 411.1 L121.7 413.5 L120.0 414.0 L118.4 414.8 L116.5 413.5 L113.3 414.5 L111.5 413.9 L109.8 414.5 L107.0 415.0 L100.0 420.0 L100.0 382.0 L101.6 382.2 L104.6 382.2 L107.0 382.0 L107.4 379.8 L107.1 377.4 L108.1 375.8 L108.0 373.8 L108.0 372.0 L107.9 369.7 L108.7 368.0 L110.2 366.1 L110.5 364.8 L112.0 362.0 L113.9 360.8 L115.2 359.2 L116.6 357.7 L118.8 357.0 L120.0 356.0 L122.9 355.2 L124.7 355.1 L125.8 353.0 L127.8 352.5 L130.0 352.0 L132.8 351.3 L133.4 350.2 L135.5 349.1 L138.2 349.2 L140.0 348.0 L140.2 346.8 L142.2 343.7 L143.4 341.2 L143.9 340.6 L144.6 337.2 L146.0 336.0 L144.9 333.6 L143.4 332.4 L142.0 330.0 L143.8 328.7 L145.8 327.5 L147.7 325.0 L148.3 323.0 L150.0 322.0 L151.1 319.6 L152.9 319.1 L154.0 317.5 L155.3 314.5 L156.6 313.3 L158.0 312.0 L158.7 309.7 L158.8 308.9 L159.2 305.6 L160.0 304.0 L160.9 302.3 L161.7 300.0 L163.9 298.5 L165.0 296.0 L164.0 294.9 L165.1 291.8 L164.9 290.4 L164.5 287.5 L164.0 286.0 L162.4 284.7 L162.6 281.9 L161.5 281.0 Z M275.0 30.0 L275.0 34.5 L276.5 35.0 L278.4 37.7 L280.0 38.0 L281.8 38.3 L284.8 38.5 L287.0 40.0 L288.3 40.0 L290.4 41.5 L292.7 40.6 L295.0 42.0 L296.1 43.7 L297.8 44.1 L300.0 44.3 L302.0 46.0 L303.8 45.2 L305.0 43.0 L305.0 40.9 L304.3 39.5 L304.7 37.8 L305.0 35.0 L307.7 34.4 L310.0 35.0 L311.7 36.7 L313.0 40.0 L314.6 41.5 L317.0 42.6 L319.0 42.5 L321.4 43.9 L324.2 45.7 L326.0 46.0 L329.0 47.4 L330.5 46.4 L332.2 48.3 L335.0 48.5 L337.6 49.9 L340.0 51.0 L341.5 54.0 L340.4 55.7 L339.0 59.0 L339.8 62.3 L340.0 64.0 L342.5 65.2 L344.1 66.2 L345.0 68.0 L346.7 68.4 L348.4 70.5 L351.0 70.5 L353.5 70.7 L355.6 71.4 L358.0 73.0 L357.8 74.9 L358.4 77.7 L360.1 79.4 L360.0 82.0 L359.6 84.3 L359.8 86.5 L360.7 87.2 L361.0 90.0 L362.5 91.7 L362.9 93.6 L364.1 95.1 L366.1 97.6 L367.0 99.0 L368.8 100.4 L369.8 102.7 L371.2 103.1 L373.0 105.0 L374.3 106.1 L376.7 107.3 L378.0 108.5 L379.6 108.9 L382.0 108.0 L382.6 106.7 L384.1 105.3 L386.0 103.5 L387.5 104.4 L389.0 107.0 L390.5 109.4 L392.1 109.8 L393.0 112.0 L394.8 112.7 L398.0 115.0 L398.8 116.9 L398.5 119.4 L400.0 122.0 L401.7 120.9 L404.7 121.0 L406.0 120.0 L408.6 120.1 L410.5 119.0 L409.6 120.4 L410.5 123.0 L409.6 125.0 L407.7 127.7 L407.0 129.0 L405.6 129.1 L404.1 130.6 L401.3 132.2 L400.0 133.0 L399.5 134.3 L397.6 136.5 L396.0 138.0 L395.0 141.0 L395.9 143.7 L398.0 144.2 L399.0 147.8 L400.3 149.6 L400.6 151.0 L402.8 152.4 L404.3 153.2 L405.0 156.3 L407.3 156.2 L409.0 158.4 L410.0 160.1 L409.8 163.5 L409.6 166.1 L410.7 167.6 L410.1 169.9 L410.7 171.4 L412.3 174.5 L411.7 175.9 L410.2 178.3 L408.0 179.6 L404.9 179.7 L402.5 181.4 L400.0 181.4 L397.0 181.4 L394.2 182.2 L392.7 182.9 L390.5 183.3 L389.7 185.5 L387.5 187.8 L385.9 188.8 L385.8 191.4 L386.1 192.8 L385.0 195.2 L385.3 197.9 L386.4 200.5 L386.8 202.6 L384.9 204.3 L382.2 206.3 L384.2 208.5 L385.0 210.9 L386.8 211.7 L389.4 212.8 L391.4 213.7 L392.6 215.5 L394.4 217.4 L395.0 219.2 L395.5 221.9 L396.4 223.1 L397.9 224.7 L398.3 227.6 L398.2 228.8 L399.7 232.0 L401.7 234.7 L402.0 236.0 L403.2 238.7 L403.8 239.8 L404.5 242.0 L406.0 244.0 L408.5 245.2 L410.4 244.9 L412.5 245.2 L414.0 246.0 L414.7 249.3 L416.0 251.0 L416.3 253.0 L415.9 254.6 L416.1 256.6 L415.0 259.0 L416.3 260.9 L418.0 263.0 L420.5 263.4 L423.1 263.1 L425.0 263.0 L426.4 262.0 L428.7 260.2 L430.0 259.0 L431.7 257.8 L434.0 257.0 L437.0 259.0 L437.0 261.0 L434.9 261.9 L432.0 262.0 L430.6 263.2 L428.0 265.0 L427.2 267.0 L425.0 269.0 L422.0 271.0 L423.1 271.7 L425.0 274.0 L428.0 276.0 L430.8 275.3 L432.0 276.0 L435.0 274.0 L437.0 273.0 L437.0 275.0 L434.8 275.8 L433.0 278.0 L431.3 277.7 L428.0 279.0 L424.8 278.4 L423.0 277.0 L420.0 279.0 L423.1 279.8 L425.0 281.0 L427.3 282.6 L430.0 283.0 L432.3 283.2 L434.2 284.3 L437.0 286.0 L440.1 286.3 L442.0 286.0 L442.0 30.0 Z M442.0 315.0 L439.3 315.3 L437.0 315.0 L434.6 317.0 L432.0 318.0 L429.6 319.7 L427.2 320.8 L426.0 322.0 L423.8 323.3 L422.0 325.0 L420.4 326.6 L417.0 326.5 L416.0 328.0 L418.6 329.1 L420.0 329.5 L423.0 328.0 L426.0 330.0 L427.8 331.7 L430.0 332.0 L431.0 335.0 L428.0 337.0 L425.7 339.2 L425.0 340.0 L424.9 341.9 L424.0 344.0 L422.0 346.0 L421.1 347.4 L420.0 350.0 L419.0 347.7 L417.0 347.0 L415.5 350.0 L417.0 353.0 L415.1 355.5 L414.0 358.0 L412.7 359.7 L413.4 362.0 L412.5 365.0 L413.4 368.0 L413.0 370.0 L414.3 371.3 L415.0 374.0 L413.7 376.5 L412.0 377.5 L409.9 376.5 L408.0 377.0 L406.0 374.0 L406.5 372.5 L408.0 370.0 L405.0 368.5 L403.2 368.5 L401.0 368.0 L399.5 370.3 L397.0 371.0 L398.0 373.0 L398.8 375.5 L399.9 376.1 L402.0 378.0 L404.0 381.0 L405.7 382.8 L408.0 384.0 L410.0 387.0 L408.6 387.0 L406.0 388.0 L406.7 390.9 L405.8 392.6 L406.0 393.3 L406.0 396.0 L405.8 397.1 L404.8 399.2 L404.0 402.1 L402.5 403.7 L402.0 406.0 L400.7 408.0 L398.8 409.3 L396.0 410.0 L394.8 410.4 L391.7 408.6 L390.8 408.5 L388.1 407.7 L386.0 408.0 L388.1 407.1 L390.0 405.0 L391.8 404.6 L394.1 402.0 L396.3 400.6 L398.0 400.0 L399.3 397.4 L399.9 395.7 L398.7 394.3 L400.0 392.0 L400.0 389.0 L399.4 387.6 L398.0 385.0 L396.7 384.6 L394.0 382.5 L391.5 381.8 L388.9 381.8 L387.0 382.2 L385.5 381.9 L383.0 382.0 L380.5 381.0 L378.5 381.3 L377.0 382.3 L375.8 381.9 L373.0 381.5 L371.3 381.9 L368.0 383.0 L365.4 383.6 L363.9 383.6 L361.4 384.2 L360.0 384.5 L358.5 383.1 L356.0 384.0 L354.1 381.5 L352.0 380.0 L349.1 379.3 L347.5 378.9 L345.1 379.2 L344.0 379.0 L342.2 379.5 L339.7 381.5 L338.0 382.0 L337.5 383.6 L335.9 385.9 L334.0 388.0 L332.6 389.1 L332.5 391.2 L330.8 393.1 L328.8 394.2 L328.0 397.2 L326.5 398.9 L326.0 400.0 L324.3 401.4 L324.3 402.5 L322.5 404.5 L321.6 407.0 L320.0 408.0 L319.4 409.3 L318.5 411.5 L316.5 412.4 L316.0 415.0 L316.0 420.0 L442.0 420.0 Z M409.0 285.0 L411.0 284.7 L414.0 284.0 L415.3 284.0 L418.0 284.0 L420.9 285.7 L423.0 286.0 L425.8 286.4 L428.0 288.0 L431.1 289.1 L432.1 288.8 L434.9 289.3 L437.0 290.0 L438.9 289.6 L442.0 290.0 L442.0 308.0 L440.2 308.5 L437.0 308.0 L435.0 309.0 L432.6 308.4 L431.0 307.0 L427.8 308.0 L426.0 308.0 L425.2 305.3 L423.0 304.0 L421.3 302.4 L421.0 300.0 L418.9 299.1 L417.7 296.9 L417.0 295.0 L416.0 293.2 L413.9 293.0 L411.5 291.0 L409.8 289.2 L408.9 286.7 Z" fill="none" stroke="#2fd3d3" stroke-width="1.05" stroke-dasharray="6 9 3 14 8 20" clip-path="url(#clipin)"/>
<path d="M100.0 30.0 L220.0 30.0 L220.0 34.5 L218.0 36.6 L216.4 38.8 L215.0 40.0 L214.2 42.5 L213.9 44.7 L214.0 46.3 L212.9 47.9 L212.0 50.0 L210.7 51.8 L210.3 54.8 L209.0 56.0 L207.7 57.8 L205.7 58.1 L204.0 60.0 L202.0 62.4 L199.8 64.2 L198.0 65.0 L197.4 67.5 L196.0 69.0 L193.8 70.0 L191.3 70.1 L190.3 70.0 L188.0 70.0 L185.8 70.6 L183.7 72.4 L182.9 72.9 L180.0 75.0 L178.4 76.1 L175.5 75.7 L173.8 76.8 L171.6 77.1 L170.0 78.0 L168.0 79.4 L165.6 79.1 L164.8 79.7 L161.8 80.5 L160.0 82.0 L157.9 82.4 L156.8 83.6 L153.9 84.3 L152.0 86.0 L150.4 86.4 L147.2 87.6 L146.6 88.4 L144.0 89.0 L142.9 89.5 L140.5 90.9 L138.3 91.5 L136.7 90.6 L134.0 92.0 L131.9 93.8 L130.0 95.0 L131.0 97.2 L130.1 100.5 L131.0 102.0 L131.1 103.7 L129.7 106.3 L129.5 107.6 L128.0 110.0 L127.4 111.1 L126.2 114.3 L124.8 116.0 L124.0 118.0 L122.1 120.0 L120.9 121.3 L120.0 124.0 L118.1 124.9 L115.4 126.8 L113.6 127.6 L112.0 128.0 L112.0 130.6 L110.2 131.8 L110.0 135.0 L108.0 136.6 L107.9 139.7 L106.0 141.0 L100.0 141.0 Z M160.0 279.0 L160.6 278.0 L163.1 274.7 L165.3 274.6 L166.0 272.0 L167.8 270.5 L169.8 268.4 L171.0 267.0 L173.8 265.9 L176.0 266.6 L178.3 265.7 L180.0 266.0 L181.5 266.9 L183.6 267.8 L186.5 268.5 L188.0 270.0 L190.4 269.2 L191.5 268.0 L194.0 267.0 L195.9 267.5 L198.6 267.8 L200.3 268.3 L202.3 267.8 L204.0 268.0 L206.9 267.4 L208.1 266.8 L209.4 266.8 L212.0 266.0 L213.1 267.2 L214.0 268.7 L215.3 271.3 L216.7 272.6 L218.0 274.0 L220.0 274.2 L221.9 275.5 L224.4 275.3 L226.3 276.3 L228.0 276.0 L230.1 276.5 L231.8 277.6 L234.1 277.3 L236.9 277.6 L238.0 279.0 L239.2 280.5 L242.3 282.7 L242.8 284.3 L245.0 286.0 L246.2 288.0 L246.1 290.1 L246.3 291.9 L247.0 294.0 L245.5 296.3 L245.6 297.1 L244.0 300.0 L246.4 300.4 L247.7 300.0 L250.0 299.9 L252.5 301.3 L254.0 301.0 L255.2 302.9 L256.0 305.0 L254.5 305.9 L251.7 307.3 L251.6 309.5 L249.0 310.0 L246.5 312.4 L244.9 314.3 L244.0 316.0 L242.2 318.3 L241.2 319.9 L241.2 321.8 L240.0 324.0 L238.5 325.6 L238.8 328.9 L237.8 330.7 L236.0 332.0 L234.5 333.6 L233.7 336.1 L232.8 337.7 L232.0 340.0 L231.3 341.5 L230.7 344.5 L231.0 345.8 L230.0 348.0 L230.2 351.1 L229.1 352.0 L229.2 354.8 L228.0 357.0 L226.2 358.8 L224.1 359.4 L222.3 361.3 L220.0 362.0 L217.7 362.0 L216.7 363.9 L213.6 363.9 L212.0 364.0 L211.5 366.7 L209.3 368.1 L208.0 370.0 L205.9 369.7 L203.9 371.3 L202.7 370.9 L200.0 372.0 L202.4 374.2 L203.3 375.8 L204.5 377.2 L206.0 378.0 L207.7 380.2 L209.1 379.9 L212.0 382.0 L211.9 383.8 L212.6 386.7 L213.0 388.0 L211.1 390.1 L210.3 390.6 L209.0 393.0 L207.3 394.4 L205.2 394.1 L202.0 395.9 L200.0 396.0 L198.7 395.9 L196.6 397.4 L194.6 397.5 L191.4 396.8 L189.6 397.9 L188.0 398.0 L186.0 397.2 L183.9 397.8 L182.2 397.1 L180.0 397.0 L178.7 397.2 L176.2 396.9 L174.6 397.1 L172.4 398.2 L170.0 398.0 L167.5 399.5 L165.7 399.4 L163.8 400.1 L161.3 401.6 L160.0 402.0 L158.6 401.5 L156.0 401.0 L154.3 402.0 L151.2 401.6 L149.7 402.2 L147.7 400.4 L146.0 401.0 L144.3 400.8 L142.4 402.1 L139.1 401.9 L137.3 402.2 L135.0 403.0 L134.1 405.3 L132.0 407.1 L130.0 408.7 L128.0 410.0 L125.3 411.5 L123.8 411.1 L121.7 413.5 L120.0 414.0 L118.4 414.8 L116.5 413.5 L113.3 414.5 L111.5 413.9 L109.8 414.5 L107.0 415.0 L100.0 420.0 L100.0 382.0 L101.6 382.2 L104.6 382.2 L107.0 382.0 L107.4 379.8 L107.1 377.4 L108.1 375.8 L108.0 373.8 L108.0 372.0 L107.9 369.7 L108.7 368.0 L110.2 366.1 L110.5 364.8 L112.0 362.0 L113.9 360.8 L115.2 359.2 L116.6 357.7 L118.8 357.0 L120.0 356.0 L122.9 355.2 L124.7 355.1 L125.8 353.0 L127.8 352.5 L130.0 352.0 L132.8 351.3 L133.4 350.2 L135.5 349.1 L138.2 349.2 L140.0 348.0 L140.2 346.8 L142.2 343.7 L143.4 341.2 L143.9 340.6 L144.6 337.2 L146.0 336.0 L144.9 333.6 L143.4 332.4 L142.0 330.0 L143.8 328.7 L145.8 327.5 L147.7 325.0 L148.3 323.0 L150.0 322.0 L151.1 319.6 L152.9 319.1 L154.0 317.5 L155.3 314.5 L156.6 313.3 L158.0 312.0 L158.7 309.7 L158.8 308.9 L159.2 305.6 L160.0 304.0 L160.9 302.3 L161.7 300.0 L163.9 298.5 L165.0 296.0 L164.0 294.9 L165.1 291.8 L164.9 290.4 L164.5 287.5 L164.0 286.0 L162.4 284.7 L162.6 281.9 L161.5 281.0 Z M275.0 30.0 L275.0 34.5 L276.5 35.0 L278.4 37.7 L280.0 38.0 L281.8 38.3 L284.8 38.5 L287.0 40.0 L288.3 40.0 L290.4 41.5 L292.7 40.6 L295.0 42.0 L296.1 43.7 L297.8 44.1 L300.0 44.3 L302.0 46.0 L303.8 45.2 L305.0 43.0 L305.0 40.9 L304.3 39.5 L304.7 37.8 L305.0 35.0 L307.7 34.4 L310.0 35.0 L311.7 36.7 L313.0 40.0 L314.6 41.5 L317.0 42.6 L319.0 42.5 L321.4 43.9 L324.2 45.7 L326.0 46.0 L329.0 47.4 L330.5 46.4 L332.2 48.3 L335.0 48.5 L337.6 49.9 L340.0 51.0 L341.5 54.0 L340.4 55.7 L339.0 59.0 L339.8 62.3 L340.0 64.0 L342.5 65.2 L344.1 66.2 L345.0 68.0 L346.7 68.4 L348.4 70.5 L351.0 70.5 L353.5 70.7 L355.6 71.4 L358.0 73.0 L357.8 74.9 L358.4 77.7 L360.1 79.4 L360.0 82.0 L359.6 84.3 L359.8 86.5 L360.7 87.2 L361.0 90.0 L362.5 91.7 L362.9 93.6 L364.1 95.1 L366.1 97.6 L367.0 99.0 L368.8 100.4 L369.8 102.7 L371.2 103.1 L373.0 105.0 L374.3 106.1 L376.7 107.3 L378.0 108.5 L379.6 108.9 L382.0 108.0 L382.6 106.7 L384.1 105.3 L386.0 103.5 L387.5 104.4 L389.0 107.0 L390.5 109.4 L392.1 109.8 L393.0 112.0 L394.8 112.7 L398.0 115.0 L398.8 116.9 L398.5 119.4 L400.0 122.0 L401.7 120.9 L404.7 121.0 L406.0 120.0 L408.6 120.1 L410.5 119.0 L409.6 120.4 L410.5 123.0 L409.6 125.0 L407.7 127.7 L407.0 129.0 L405.6 129.1 L404.1 130.6 L401.3 132.2 L400.0 133.0 L399.5 134.3 L397.6 136.5 L396.0 138.0 L395.0 141.0 L395.9 143.7 L398.0 144.2 L399.0 147.8 L400.3 149.6 L400.6 151.0 L402.8 152.4 L404.3 153.2 L405.0 156.3 L407.3 156.2 L409.0 158.4 L410.0 160.1 L409.8 163.5 L409.6 166.1 L410.7 167.6 L410.1 169.9 L410.7 171.4 L412.3 174.5 L411.7 175.9 L410.2 178.3 L408.0 179.6 L404.9 179.7 L402.5 181.4 L400.0 181.4 L397.0 181.4 L394.2 182.2 L392.7 182.9 L390.5 183.3 L389.7 185.5 L387.5 187.8 L385.9 188.8 L385.8 191.4 L386.1 192.8 L385.0 195.2 L385.3 197.9 L386.4 200.5 L386.8 202.6 L384.9 204.3 L382.2 206.3 L384.2 208.5 L385.0 210.9 L386.8 211.7 L389.4 212.8 L391.4 213.7 L392.6 215.5 L394.4 217.4 L395.0 219.2 L395.5 221.9 L396.4 223.1 L397.9 224.7 L398.3 227.6 L398.2 228.8 L399.7 232.0 L401.7 234.7 L402.0 236.0 L403.2 238.7 L403.8 239.8 L404.5 242.0 L406.0 244.0 L408.5 245.2 L410.4 244.9 L412.5 245.2 L414.0 246.0 L414.7 249.3 L416.0 251.0 L416.3 253.0 L415.9 254.6 L416.1 256.6 L415.0 259.0 L416.3 260.9 L418.0 263.0 L420.5 263.4 L423.1 263.1 L425.0 263.0 L426.4 262.0 L428.7 260.2 L430.0 259.0 L431.7 257.8 L434.0 257.0 L437.0 259.0 L437.0 261.0 L434.9 261.9 L432.0 262.0 L430.6 263.2 L428.0 265.0 L427.2 267.0 L425.0 269.0 L422.0 271.0 L423.1 271.7 L425.0 274.0 L428.0 276.0 L430.8 275.3 L432.0 276.0 L435.0 274.0 L437.0 273.0 L437.0 275.0 L434.8 275.8 L433.0 278.0 L431.3 277.7 L428.0 279.0 L424.8 278.4 L423.0 277.0 L420.0 279.0 L423.1 279.8 L425.0 281.0 L427.3 282.6 L430.0 283.0 L432.3 283.2 L434.2 284.3 L437.0 286.0 L440.1 286.3 L442.0 286.0 L442.0 30.0 Z" fill="none" stroke="#ffffff" stroke-width="1.05" stroke-dasharray="3 17 5 29 2 11" stroke-dashoffset="13" clip-path="url(#clipin)"/>
<path d="M256.0 62.0 L257.7 60.1 L259.9 60.3 L260.4 58.6 L261.4 56.4 L262.6 55.4 L263.4 53.9 L264.1 50.4 L266.2 51.7 L268.7 51.3 L270.7 51.8 L272.8 51.1 L274.9 51.4 L276.2 52.6 L278.9 53.8 L280.8 54.8 L278.8 56.8 L277.8 59.3 L278.7 59.9 L281.4 60.7 L282.0 62.4 L284.5 61.1 L287.3 59.1 L288.4 61.1 L289.3 64.4 L293.0 63.2 L295.3 63.0 L297.3 64.1 L299.3 64.4 L302.4 64.4 L303.0 62.5 L305.1 62.4 L308.9 62.8 L310.7 60.2 L312.4 60.5 L314.6 59.6 L315.3 57.4 L318.6 57.5 L318.8 59.9 L317.4 60.9 L316.2 64.1 L313.7 64.1 L313.6 67.4 L312.7 68.1 L310.8 70.1 L308.7 70.9 L307.3 69.9 L305.2 72.0 L304.3 71.6 L300.2 73.3 L302.3 74.0 L302.3 77.7 L301.4 78.9 L301.6 80.0 L300.0 82.6 L300.0 84.0 M248.0 64.0 L248.8 65.2 L250.3 66.4 L252.7 66.8 L254.2 68.1 L254.6 67.1 L257.2 66.0 L259.3 65.5 L259.8 63.5 L261.3 65.6 L264.4 66.2 L265.9 67.0 L268.0 68.0 M180.0 100.0 L183.4 100.9 L184.7 102.7 L185.1 101.7 L188.3 102.9 L189.2 104.0 L192.3 100.5 L191.5 99.6 L195.4 97.8 L195.2 96.8 L196.2 99.4 L197.7 100.4 L200.7 102.7 L201.1 104.2 L202.9 105.6 L203.2 105.6 L205.8 106.1 L207.6 103.5 L208.1 101.7 L209.5 102.7 L213.2 101.2 L213.4 102.0 L214.1 102.6 L214.9 103.8 L216.6 104.1 L219.9 105.5 L220.9 108.6 L220.8 107.0 L225.5 107.5 L226.2 105.8 L228.6 103.4 L229.5 105.6 L230.3 107.6 L231.8 108.7 L232.0 109.2 L233.3 111.1 L237.1 112.1 L234.6 113.6 L232.0 114.1 L231.4 116.0 L229.2 116.7 L227.5 118.2 L226.5 116.7 L224.6 117.4 L222.1 117.0 L219.4 116.1 L217.0 113.6 L217.3 113.6 L215.0 117.1 L214.3 117.5 L210.9 117.5 L210.1 117.7 L206.6 121.1 L206.7 118.0 L204.5 117.4 L204.1 116.4 L202.0 116.7 L199.1 114.3 L198.1 113.7 L196.3 114.3 L194.9 115.4 L190.9 117.2 L191.2 117.7 L188.1 119.1 L187.7 115.3 L184.8 114.2 L182.7 113.6 L181.5 113.7 L181.1 111.3 L178.5 111.5 L180.8 108.2 L178.8 104.7 L181.3 104.1 L181.1 102.9 L180.0 100.0 M196.0 104.0 L199.1 106.4 L199.9 105.5 L200.3 108.3 L203.4 107.3 L202.9 111.3 L204.8 109.5 L207.5 108.5 L211.2 107.3 L211.7 105.4 L214.0 107.6 L214.9 108.3 L216.9 108.8 L217.4 111.0 L218.7 112.3 L223.0 112.2 L223.2 110.1 L227.4 109.1 L229.6 107.8 L230.0 108.0 M128.0 134.0 L130.8 134.1 L132.2 136.4 L132.6 136.5 L134.4 135.3 L136.1 137.6 L137.3 137.9 L139.6 137.1 L141.8 138.5 L143.9 140.7 L147.2 139.6 L149.4 141.5 L151.3 142.9 L152.1 141.7 L155.2 144.2 L156.3 142.1 L158.9 144.3 L161.1 145.3 L163.3 143.7 L163.7 142.1 L166.0 141.7 L168.4 140.9 L170.0 139.3 L173.3 138.8 L175.2 137.6 L174.9 135.8 L177.4 134.3 L179.0 132.9 L181.9 133.8 L185.0 133.3 L186.2 130.0 L187.1 129.4 L191.0 129.5 L192.1 130.9 L193.2 133.0 L194.9 131.8 L196.4 133.6 L199.3 132.3 L199.3 133.2 L201.8 129.8 L204.8 131.2 L205.3 127.7 L207.7 126.9 L207.3 124.7 L210.1 127.3 L208.9 129.6 L211.6 133.4 L211.2 134.3 L213.4 134.5 L216.0 133.5 L218.9 132.6 L219.9 130.6 L220.1 130.5 L222.7 128.2 L221.7 126.7 L225.0 125.0 L225.9 122.9 L226.0 120.4 L226.7 119.6 L228.3 118.5 L229.2 115.3 L230.8 115.4 L234.8 116.9 L237.2 114.7 L238.5 116.2 L239.6 117.2 L242.1 114.3 L244.1 113.4 L244.7 112.3 L246.3 109.9 L248.9 109.4 L249.9 108.1 L252.2 106.8 L252.7 106.2 L257.1 106.5 L257.6 103.4 L257.9 103.7 L259.7 101.4 L258.8 99.7 L262.8 102.1 L263.3 101.6 L264.8 103.2 L265.9 105.0 L267.7 104.4 L269.7 107.6 L269.4 108.6 L273.3 110.4 L274.5 110.4 L275.8 112.4 L277.4 111.4 L280.0 112.0 M250.0 134.0 L252.4 133.3 L253.0 131.9 L257.1 131.1 L259.6 133.6 L258.9 136.4 L259.7 137.9 L259.0 139.7 L257.8 140.2 L256.0 141.3 L253.0 141.0 L250.1 139.7 L251.3 137.4 L250.2 135.1 L250.0 134.0 M140.0 142.0 L140.8 143.4 L144.6 144.9 L144.7 145.0 L145.3 148.3 L148.8 147.3 L150.3 147.6 L153.2 145.3 L153.4 144.1 L156.3 145.3 L158.3 144.1 L158.8 145.1 L159.8 147.6 L161.4 148.1 L163.2 149.8 L167.1 148.2 L168.3 147.7 L169.4 146.4 L172.0 146.0 M150.0 148.0 L150.7 150.0 L154.1 150.1 L154.3 150.9 L155.4 152.1 L157.3 154.8 L158.8 152.3 L162.0 153.0 L161.5 150.6 L164.0 150.0 M296.0 132.0 L297.0 133.4 L299.1 134.0 L300.5 137.6 L302.2 138.0 L301.7 139.9 L299.5 142.8 L298.2 144.9 L298.9 146.1 L299.5 146.5 L300.2 149.7 L303.0 150.8 L303.1 152.5 L304.2 154.9 L302.4 155.9 L300.8 157.2 L298.9 161.1 L301.3 161.2 L303.0 164.2 L305.5 165.0 L306.7 166.1 L305.4 168.7 L304.4 168.9 L302.9 172.2 L302.4 175.0 L304.2 174.8 L304.9 176.7 L307.1 176.7 L307.8 178.3 L309.2 176.8 L311.3 174.6 L311.8 172.5 L313.6 172.1 L314.3 169.6 L313.4 167.4 L314.2 166.6 L315.4 164.8 L316.6 161.4 L315.2 160.5 L314.6 159.2 L313.5 156.1 L313.5 155.8 L311.9 154.1 L311.1 152.9 L310.0 149.0 L310.9 148.6 L313.0 146.5 L314.0 144.0 M296.0 148.0 L298.3 149.3 L299.2 150.5 L299.6 152.2 L300.9 153.3 L301.8 155.5 L300.0 158.8 L301.5 159.1 L299.9 162.1 L298.6 164.2 L298.4 165.4 L299.6 167.0 L303.3 169.1 L304.7 168.9 L307.1 171.2 L308.1 167.8 L308.1 166.4 L309.3 166.6 L310.6 163.8 L310.8 161.9 L313.7 162.6 L315.0 158.7 L314.5 157.5 L316.1 156.1 L317.3 155.2 L318.8 153.8 L319.6 151.0 L321.8 150.5 L322.7 148.7 L321.8 148.8 L324.0 145.1 L326.9 148.1 L326.3 149.2 L328.0 148.0 L329.8 151.0 L332.6 151.1 L334.5 151.5 L334.9 151.2 L337.3 152.7 L338.9 151.6 L341.2 151.7 L342.8 152.3 L345.0 153.1 L348.9 154.2 L348.7 152.9 L351.4 154.3 L353.4 155.0 L355.9 155.7 L356.5 155.2 L360.2 156.3 L361.7 157.8 L363.3 157.4 L364.8 157.0 L365.2 157.7 L367.2 157.5 L369.0 157.8 L370.7 158.1 L374.6 158.2 L376.5 160.2 L377.1 159.9 L380.0 161.7 L381.7 160.2 L382.0 160.9 L383.9 163.1 L387.5 161.8 L389.0 164.5 L389.3 164.0 L390.3 165.8 L392.7 167.2 L393.0 170.3 L395.0 173.2 L396.6 172.7 L396.6 175.1 L399.4 175.8 L400.3 177.2 L400.5 174.2 L403.7 173.4 L404.8 173.2 L406.0 172.0 M330.0 140.0 L332.4 140.5 L334.3 142.4 L334.6 143.9 L335.6 144.1 L337.8 145.4 L340.4 145.0 L341.7 143.9 L343.3 144.1 L347.0 142.4 L348.7 141.6 L350.2 142.6 L351.4 144.2 L353.7 146.2 L353.5 145.8 L356.0 148.0 M386.0 184.0 L385.0 185.9 L384.3 187.5 L384.0 189.2 L381.1 189.3 L380.9 191.2 L381.2 193.6 L378.9 194.1 L377.3 196.3 L377.1 195.6 L373.9 196.6 L372.3 196.9 L368.9 198.5 L371.0 199.4 L374.1 200.2 L375.6 201.8 L374.9 201.3 L377.9 202.9 L377.7 204.8 L380.9 204.8 L382.1 205.1 L380.4 205.8 L378.9 208.6 L376.0 207.6 L375.2 210.0 L372.4 209.5 L371.8 209.6 L368.6 211.9 L368.3 212.2 L366.5 212.0 L364.6 214.0 L363.0 214.1 L360.2 216.0 L360.2 217.4 L359.1 217.7 L356.4 218.9 L355.3 221.1 L354.9 220.9 L352.9 224.0 L352.0 224.5 L348.9 225.5 L351.6 228.1 L351.9 228.2 L353.7 228.8 L356.6 230.9 L356.5 233.9 L358.7 233.4 L360.6 233.8 L361.2 231.8 L363.4 232.1 L364.4 229.5 L366.5 229.4 L368.1 228.8 L369.0 228.0 L369.8 226.3 L372.6 226.8 L373.0 228.9 L376.1 228.9 L378.1 229.5 L380.1 231.0 L379.7 233.5 L381.6 234.3 L381.7 236.3 L384.0 238.0 M230.0 346.0 L230.6 346.0 L234.0 343.1 L235.3 342.8 L237.8 343.4 L238.1 342.0 L240.3 340.3 L241.8 339.7 L243.7 340.1 L246.1 336.9 L246.9 338.1 L249.6 336.3 L251.1 335.4 L251.7 333.8 L253.7 332.3 L256.5 330.9 L257.0 331.8 L260.4 330.0 L262.1 330.5 L262.2 330.0 L264.0 328.2 L265.5 326.5 L268.6 327.6 L269.1 325.6 L271.6 324.9 L271.8 323.8 L273.1 323.0 L275.7 321.1 L277.7 318.7 L277.3 318.3 L280.3 317.7 L281.4 315.6 L281.7 314.7 L283.9 313.8 L285.7 311.8 L287.0 310.0 L287.7 310.2 L290.3 307.3 L290.6 307.1 L293.1 305.9 L294.1 306.2 L295.7 303.9 L298.8 302.6 L299.6 301.2 L302.1 301.8 L302.4 300.3 L304.1 299.8 L306.5 297.5 L309.4 297.0 L310.2 297.1 L310.6 294.5 L313.3 292.8 L314.3 292.0 L315.7 290.5 L316.6 288.8 L316.2 287.1 L318.0 286.3 L318.9 284.2 L319.4 283.0 L321.5 281.8 L320.9 279.4 L323.4 278.5 L323.5 277.2 L323.9 275.5 L327.1 273.7 L326.3 273.0 L328.5 270.7 L328.8 268.5 L329.6 269.0 L331.5 267.7 L334.0 266.0 L333.7 263.1 L336.0 261.2 L335.1 259.8 L336.5 257.5 L337.2 254.9 L337.9 258.5 L339.0 258.8 L341.3 260.7 L342.9 263.1 L341.1 263.4 L339.9 264.9 L337.6 266.8 L337.2 267.8 L336.0 270.0 M232.0 350.0 L232.7 347.3 L235.5 346.2 L236.9 344.5 L239.4 344.5 L238.9 344.2 L242.0 348.2 L242.0 347.3 L245.4 351.2 L242.9 350.3 L242.8 354.4 L240.4 354.1 L241.1 356.7 L242.8 357.4 L242.2 359.4 L245.4 360.1 L246.0 360.0 M238.0 326.0 L240.7 326.6 L239.8 327.8 L243.3 331.6 L245.5 332.5 L243.4 334.1 L241.9 335.1 L239.9 335.1 L241.1 338.9 L243.4 339.7 L244.3 339.0 L247.1 341.1 L248.0 342.0 M252.0 322.0 L254.5 323.8 L255.7 323.5 L256.9 327.2 L257.9 328.0 L256.2 329.7 L256.3 333.1 L255.2 333.9 L253.4 336.8 L255.5 335.7 L258.2 338.1 L261.0 338.8 L262.0 340.0 M107.0 310.0 L107.9 307.7 L109.6 306.1 L111.0 304.4 L112.7 303.7 L113.7 302.6 L113.9 301.0 L115.5 297.3 L116.2 295.8 L116.2 294.4 L118.3 292.2 L119.3 291.1 L120.0 288.8 L121.9 287.8 L121.3 284.6 L123.8 283.9 L123.0 281.4 L124.5 280.1 L125.2 278.2 L126.7 277.7 L127.8 276.0 L127.3 273.0 L129.9 271.9 L130.0 270.0 M160.0 304.0 L159.0 304.8 L156.7 306.4 L156.4 307.7 L155.3 309.5 L153.3 310.8 L152.1 312.0 L151.5 314.0 L150.0 314.5 L148.5 316.4 L148.6 319.4 L146.8 320.7 L145.3 322.6 L144.3 324.5 L144.2 326.6 L143.4 327.9 L141.3 329.5 L143.6 331.8 L143.2 333.4 L144.3 333.7 L146.6 336.7 L144.9 338.2 L143.8 338.9 L143.9 340.8 L141.9 343.4 L141.7 345.0 L141.4 346.5 L139.4 347.5 L138.6 348.8 L135.5 350.0 L134.6 349.9 L132.1 351.9 L129.4 352.4 L127.9 353.2 L125.4 353.7 L123.6 353.8 L122.5 354.5 L119.4 356.6 L117.9 357.9 L116.7 358.7 L115.4 359.3 L113.4 360.5 L111.5 361.8 L111.5 363.3 L109.6 365.7 L109.5 367.4 L108.1 369.2 L108.0 372.0 M376.0 280.0 L376.8 281.3 L376.6 283.7 L377.0 285.5 L376.3 286.6 L376.3 289.8 L377.3 290.5 L377.1 292.3 L376.9 294.4 L376.4 296.3 L377.3 298.5 L376.7 299.4 L376.8 302.5 L378.2 303.6 L378.7 304.8 L379.0 308.0 L379.8 309.1 L381.7 311.2 L381.5 312.3 L382.5 314.4 L383.5 316.5 L384.7 319.0 L385.8 320.8 L387.0 322.6 L388.7 324.6 L389.2 326.6 L390.1 327.7 L391.8 330.8 L391.2 331.6 L394.2 333.4 L395.1 334.5 L395.9 335.4 L398.0 336.0 M171.0 267.0 L172.8 266.3 L175.3 266.8 L176.5 267.1 L177.5 266.7 L179.6 265.6 L181.7 267.4 L184.7 268.3 L185.7 268.4 L187.7 269.5 L190.0 269.0 L191.4 267.5 L194.6 267.3 L195.4 267.8 L197.9 267.2 L200.5 267.9 L201.9 267.6 L204.1 268.5 L206.3 266.8 L207.2 266.8 L209.7 266.9 L212.0 266.0 M396.0 138.0 L395.0 140.1 L395.2 142.7 L395.2 144.0 L397.0 145.2 L398.1 146.9 L399.0 149.2 L400.5 150.2 L402.0 150.7 L402.9 153.6 L404.9 154.4 L405.6 155.8 L406.9 157.4 L408.7 160.2 L409.0 161.5 L409.7 163.9 L409.6 165.7 L410.2 168.4 L411.3 169.2 L410.2 172.6 L410.2 173.6 L409.9 175.8 L408.0 177.9 L407.6 178.5 L406.3 180.8 L404.2 181.6 L402.7 182.4 L400.2 181.8 L398.4 182.3 L397.6 183.8 L395.1 184.0 L394.0 184.7 L392.2 184.7 L390.5 184.7 L388.9 186.4 L387.3 188.3 L386.2 189.5 L384.9 192.0 L385.2 194.3 L383.4 195.8 L383.9 197.3 L383.6 199.3 L382.8 202.1 L382.0 204.0 M402.0 236.0 L403.0 238.2 L403.6 240.9 L405.5 242.5 L405.9 244.7 L408.5 244.7 L409.2 244.9 L412.9 245.6 L413.8 246.3 L414.3 248.2 L416.6 250.9 L415.5 253.9 L415.5 254.9 L414.4 257.2 L415.0 258.6 L417.4 261.2 L418.0 263.0 M316.0 415.0 L316.3 412.6 L317.9 410.9 L319.6 409.0 L320.1 407.7 L321.8 405.9 L322.1 404.5 L323.2 402.4 L324.7 400.9 L326.2 399.3 L326.7 398.4 L328.6 396.3 L328.4 396.0 L329.2 394.7 L331.1 392.1 L332.5 391.4 L332.7 390.0 L333.5 388.2 L335.0 387.0 L335.7 384.8 L337.4 383.5 L338.3 382.2 L340.3 381.6 L342.0 380.3 L343.8 378.3 L346.4 378.7 L348.5 380.2 L350.3 379.2 L352.0 380.0 M110.0 160.0 L113.0 161.3 L112.2 163.8 L114.5 164.5 L115.0 163.8 L119.4 166.9 L118.6 164.9 L121.8 163.2 L122.8 162.4 L124.9 161.1 L128.4 162.9 L128.1 164.4 L128.8 167.2 L131.4 167.8 L134.1 167.5 L134.2 169.9 L136.4 171.5 L137.0 171.3 L138.9 174.5 L141.7 174.7 L142.0 176.9 L143.8 174.7 L146.7 175.1 L148.8 174.3 L149.0 172.1 L149.9 174.9 L151.6 175.3 L154.2 176.7 L154.7 178.3 L156.0 180.0 M112.0 176.0 L114.5 176.5 L115.6 178.1 L116.7 179.6 L117.7 181.7 L117.2 183.3 L119.0 184.0 L123.0 183.6 L124.8 181.8 L126.0 180.7 L128.0 179.7 L131.3 179.3 L131.5 181.5 L132.1 184.0 L133.8 185.1 L133.6 184.7 L134.4 188.0 L137.1 187.3 L137.9 190.1 L139.9 189.6 L143.4 188.0 L144.4 188.4 L147.0 186.6 L148.1 186.7 L149.6 188.2 L150.5 188.1 L151.7 190.3 L153.2 191.6 L153.9 193.9 L154.3 194.2 L154.8 195.8 L157.1 197.3 L159.0 197.5 L161.8 200.3 L164.0 200.0 M110.0 200.0 L111.9 201.2 L113.2 202.4 L114.9 202.9 L115.6 202.9 L118.7 203.8 L120.5 206.1 L121.6 206.0 L123.7 204.2 L126.9 203.5 L128.0 201.3 L130.4 201.4 L130.5 203.8 L132.6 204.1 L134.1 205.5 L135.4 208.4 L135.7 210.3 L139.0 211.0 L139.0 212.4 L140.2 211.2 L142.9 211.3 L143.8 209.0 L146.9 209.4 L148.2 206.7 L150.1 206.9 L152.1 206.7 L153.5 208.3 L154.9 209.4 L154.7 209.6 L158.5 210.3 L158.8 213.7 L159.7 214.9 L161.5 214.2 L163.9 210.5 L165.0 210.0 L166.3 210.5 L167.7 209.3 L168.3 206.8 L171.2 206.6 L171.7 208.6 L173.1 209.3 L173.5 209.0 L175.7 212.0 L178.6 211.8 L179.1 213.6 L180.0 214.0 M126.0 222.0 L126.3 223.4 L129.5 222.8 L129.6 226.3 L132.4 225.4 L134.8 228.3 L135.4 229.4 L137.1 228.4 L140.0 224.9 L142.3 223.8 L141.4 224.3 L145.8 221.6 L147.4 222.7 L148.1 222.8 L148.5 223.6 L150.3 224.7 L150.5 226.2 L151.8 228.4 L153.7 228.2 L155.8 230.7 L158.7 230.0 L158.6 229.0 L162.3 227.2 L164.0 226.4 L163.6 224.2 L166.9 223.1 L169.4 225.0 L170.7 222.1 L170.7 223.8 L173.2 221.8 L176.2 222.5 L177.5 222.3 L179.7 223.2 L181.6 223.1 L181.5 222.8 L184.0 224.7 L185.8 224.1 L189.4 224.5 L191.1 226.3 L192.1 228.2 L192.4 228.1 L196.0 229.6 L196.6 228.4 L198.1 229.3 L200.7 230.4 L201.2 229.9 L204.0 232.0 M144.0 236.0 L145.7 237.5 L145.6 239.3 L145.5 241.3 L147.5 243.5 L148.3 246.4 L148.5 247.1 L148.0 249.6 L148.9 252.8 L150.0 253.9 L150.0 256.0 M152.0 236.0 L154.2 235.6 L155.5 234.8 L158.8 233.9 L160.3 231.7 L162.2 232.4 L163.3 233.7 L165.4 235.7 L167.0 236.1 L168.5 238.6 L169.3 236.2 L171.2 235.5 L174.5 234.2 L176.0 234.0 M237.1 144.5 L238.2 145.2 L239.2 144.1 L238.2 143.1 Z M230.5 147.2 L232.2 147.1 L232.6 148.6 L233.8 150.4 L235.6 149.6 L236.0 148.6 L235.1 147.8 L235.4 146.8 M245.9 146.7 L245.8 145.1 L245.8 143.5 L246.8 142.5 L247.9 143.3 L248.9 143.1 L249.6 143.7 L251.1 143.8 M240.6 149.1 L242.2 149.9 L243.4 149.1 L242.5 147.6 M244.0 151.8 L243.9 153.2 L243.1 153.7 L243.5 154.8 L243.1 155.7 L242.0 156.2 M247.1 147.5 L247.8 145.5 L247.7 143.8 L247.6 142.7 L246.2 141.5 L244.4 140.5 L243.4 140.1 M235.8 144.4 L235.8 143.0 L234.9 141.2 L235.8 140.6 L235.7 139.5 L234.6 138.5 L234.0 137.6 Z M239.7 146.7 L241.1 148.1 L240.1 149.5 L238.6 149.7 L237.6 147.8 L237.7 146.2 L237.3 144.9 L236.9 143.6 Z M255.6 147.4 L256.2 147.9 L257.0 147.5 L257.6 146.9 M245.2 144.5 L246.7 144.6 L247.2 143.2 L248.6 143.7 L249.6 143.4 L251.1 144.4 M303.1 150.5 L304.1 150.2 L304.9 150.2 L307.1 150.2 L307.8 151.8 Z M297.9 140.7 L297.3 139.6 L295.4 139.2 L295.8 137.2 L297.6 136.4 M295.6 150.5 L297.5 150.3 L298.6 150.0 L299.8 150.2 L300.6 151.8 L302.4 153.1 Z M293.6 149.2 L293.4 151.2 L292.0 151.7 L290.1 151.5 L289.5 153.1 L287.6 152.9 M299.6 141.0 L298.9 142.7 L298.4 144.4 L299.3 144.9 L298.9 145.7 L297.8 146.7 M301.8 152.7 L300.4 151.9 L299.8 152.4 L298.6 151.2 L297.3 149.5 L295.8 148.2 L296.0 147.1 Z M296.7 142.7 L295.5 144.3 L296.8 145.6 L296.0 147.2 L294.5 147.3 L293.4 145.6 L292.4 145.8 L290.4 146.2 M301.7 157.7 L302.7 159.3 L303.2 160.4 L303.7 161.9 L303.2 162.7 M296.0 143.8 L294.2 143.3 L294.2 141.9 L294.7 140.5 M303.1 148.7 L303.5 147.6 L304.4 145.8 L306.4 146.3 L306.5 147.4 L306.8 148.7 L307.5 149.8 L307.5 151.2 Z M296.8 139.4 L298.2 139.5 L298.9 138.9 L300.2 137.5 L299.1 135.8 Z M302.7 142.3 L304.0 141.8 L304.6 141.1 L305.1 139.9 L305.4 138.2 L305.2 136.7 L303.6 135.2 Z M221.8 108.7 L221.0 108.7 L219.5 107.4 L217.7 108.4 L215.7 108.0 L214.5 108.6 L213.0 110.2 M202.8 108.8 L202.7 108.0 L203.5 106.5 L202.2 104.8 L201.2 103.9 L201.3 102.0 M185.5 114.2 L186.5 115.4 L186.5 116.2 L185.6 117.3 L183.9 117.3 L183.2 117.9 L182.4 117.3 M201.9 106.8 L201.7 108.2 L201.0 109.0 L200.2 109.4 L198.5 110.2 L197.1 110.5 M223.5 108.8 L224.8 108.7 L224.9 107.6 L224.0 106.3 L225.1 104.8 L225.6 103.5 L226.1 102.3 L226.0 101.4 Z M234.3 104.0 L233.4 102.2 L231.4 102.6 L230.0 103.5 L229.1 104.4 L227.0 103.9 L226.2 105.1 L224.3 105.3 M209.5 103.2 L210.4 103.8 L211.2 103.2 L212.7 102.2 L213.9 103.6 L214.4 105.4 L215.0 106.8 L216.8 106.3 Z M231.8 112.3 L233.4 112.6 L235.2 112.5 L235.5 111.3 L236.6 111.4 L238.1 110.3 Z M211.9 117.9 L213.9 118.3 L215.1 118.5 L216.7 117.1 L218.0 117.1 L218.0 115.6 M205.8 106.1 L206.0 105.3 L205.6 104.0 L205.9 102.9 L207.7 102.3 L208.7 102.0 L209.2 103.1 M196.0 105.5 L196.8 107.0 L195.7 108.1 L195.0 107.6 L193.6 106.1 L192.9 106.6 M205.6 113.4 L203.9 112.2 L203.4 110.1 L204.6 109.6 L204.9 107.5 M185.7 112.6 L186.9 113.4 L187.6 112.8 L186.9 111.5 L188.0 110.4 L189.3 110.4 L190.1 111.3 M188.6 113.3 L187.6 112.7 L185.6 112.5 L185.4 113.9 L183.6 114.6 Z M185.8 103.0 L184.3 104.4 L183.9 105.5 L182.3 105.2 Z M221.3 107.1 L219.9 107.9 L217.9 107.1 L216.8 108.7 L218.0 110.1 L219.3 111.5 M231.5 115.0 L231.7 113.1 L233.2 111.9 L234.8 112.1 L236.0 111.7 M224.7 103.3 L224.9 104.6 L224.5 106.0 L224.1 107.0 L223.9 107.9 Z M216.5 105.3 L215.4 104.5 L214.0 104.7 L212.3 104.4 L211.2 102.7 L211.1 101.8 L212.2 101.1 M203.4 113.8 L203.2 114.9 L204.2 116.7 L205.1 116.8 L205.9 116.0 M249.0 340.5 L247.9 340.0 L246.3 341.2 L244.5 341.5 L244.0 342.8 L242.5 343.4 L242.4 344.8 L241.3 345.2 Z M239.6 340.9 L240.8 340.7 L242.0 339.8 L241.7 338.5 L239.7 337.7 L239.3 336.9 L240.1 336.4 L241.4 334.7 M253.5 334.4 L253.0 335.5 L251.5 335.4 L251.3 337.4 L251.4 338.5 M239.5 324.5 L237.7 323.9 L237.9 322.5 L238.4 320.8 L238.5 319.6 L239.9 318.2 M252.4 344.5 L251.5 343.6 L251.1 342.8 L249.9 341.3 L249.9 339.6 Z M243.6 334.9 L244.7 333.6 L246.6 334.4 L247.4 334.2 L248.8 335.8 L249.8 335.4 L250.3 333.6 L251.4 333.8 M257.1 335.0 L256.8 333.3 L258.0 332.3 L259.2 330.6 L258.6 328.9 M254.4 326.9 L255.2 327.8 L255.9 328.2 L257.3 328.5 L258.1 329.5 L259.2 329.6 L260.6 331.3 L261.2 332.2 M242.5 329.1 L242.1 327.2 L240.5 326.7 L239.5 325.0 L237.7 325.2 M255.4 333.9 L256.4 332.3 L257.2 330.6 L256.5 328.9 L256.9 326.8 L257.9 325.7 M255.6 332.6 L254.9 334.1 L256.6 335.4 L257.7 334.8 L258.3 334.1 L259.3 333.4 M247.0 332.3 L247.2 330.2 L247.8 329.2 L247.2 328.4 L245.3 328.3 L244.4 328.8 L243.2 327.4 L241.2 327.8 M255.0 340.0 L256.0 339.8 L257.5 340.3 L258.1 341.6 L256.9 342.7 L256.9 343.8 L258.2 344.5 L259.1 343.3 Z M245.7 336.0 L245.5 335.0 L244.3 333.7 L243.4 332.8 L242.4 331.9 L243.5 330.6 L243.1 329.4 L243.2 328.5 Z M169.5 152.0 L167.4 152.0 L167.2 153.8 L166.6 154.9 M154.6 145.7 L154.8 144.5 L154.3 143.4 L153.1 143.8 L152.0 144.8 L151.4 146.9 L150.1 147.0 L149.3 148.3 Z M147.7 148.6 L146.6 147.0 L145.0 147.9 L143.9 146.8 L142.9 147.6 Z M147.6 151.1 L146.1 150.7 L144.9 150.2 L143.6 151.3 L141.6 151.6 L141.5 152.4 L140.7 153.8 L141.5 155.4 M156.9 141.2 L155.0 140.8 L153.9 140.4 L152.6 140.7 M157.2 147.7 L155.3 147.6 L154.4 146.5 L154.4 145.1 Z M167.2 147.1 L166.3 147.5 L165.2 147.5 L164.9 148.2 L166.4 149.0 Z M178.7 141.1 L180.0 139.8 L180.0 138.0 L179.3 137.5 M168.5 150.3 L167.9 151.6 L166.2 152.7 L165.5 152.1 Z M142.4 150.6 L144.2 150.4 L145.0 148.6 L145.3 147.7 L145.2 146.1 L144.7 144.4 L142.9 144.1 L141.2 144.6 M135.7 185.0 L137.1 185.8 L138.0 185.7 L138.2 187.5 L137.3 188.3 L135.2 189.0 L134.0 187.9 M136.3 207.1 L135.4 208.8 L136.0 210.1 L135.7 211.3 L136.2 212.2 L134.8 213.5 L133.7 213.3 Z M160.3 211.7 L158.5 212.3 L156.5 211.7 L155.6 211.8 L153.7 211.9 Z M153.0 209.0 L154.2 209.7 L154.9 211.6 L155.0 212.4 L155.7 213.8 M132.5 170.8 L132.9 168.8 L133.3 167.3 L133.8 166.4 L133.4 165.5 L133.6 164.2 L134.2 163.0 M121.7 170.0 L122.5 171.5 L122.1 172.4 L121.2 173.3 L120.6 173.9 L122.0 175.6 L121.3 176.9 M127.6 202.3 L129.1 203.0 L129.8 203.7 L129.4 204.9 L128.1 204.5 L127.8 205.2 L127.8 207.0 M158.0 207.4 L159.1 206.0 L158.3 205.0 L157.4 204.9 L157.1 203.4 L155.3 202.7 L154.2 202.7 L153.4 202.0 M176.5 215.2 L177.2 215.6 L177.6 217.3 L176.9 219.4 L177.8 219.9 L178.5 221.9 L178.2 223.1 L177.2 224.6 Z M139.4 219.1 L138.9 220.4 L136.8 220.8 L136.1 219.6 M167.9 217.1 L168.8 218.1 L168.6 220.0 L166.5 220.1 L165.7 220.4 Z M178.3 220.5 L177.4 220.2 L176.7 220.7 L175.1 220.6 L174.1 222.4 Z M144.7 217.1 L142.8 217.5 L142.3 218.3 L141.6 219.6 L142.6 220.8 L143.0 222.7 M373.9 232.7 L374.9 233.5 L373.6 235.2 L372.8 234.8 Z M384.7 217.1 L385.0 218.5 L385.3 220.0 L386.0 221.8 L384.9 222.4 L384.4 223.1 M364.9 219.6 L364.1 220.3 L362.3 221.1 L361.1 219.7 L361.2 218.7 Z M377.4 228.6 L376.6 228.9 L375.3 228.5 L374.9 227.8 L375.4 226.6 M383.7 225.9 L382.7 225.6 L381.9 224.8 L380.7 222.9 Z M378.5 227.5 L376.6 226.5 L375.7 227.5 L376.0 229.5 M380.9 233.4 L378.9 233.0 L379.0 231.5 L379.2 230.0 L379.3 229.2 L380.5 229.3 L381.1 228.6 L380.9 226.7 Z M359.1 230.0 L357.5 230.7 L356.6 231.2 L355.6 232.1 L356.0 233.0 Z M370.9 227.7 L372.6 226.7 L373.7 226.3 L374.2 224.6 L374.5 223.3 L375.3 223.3 M378.2 227.9 L376.1 228.3 L375.2 227.5 L373.9 227.6 L371.8 228.3 L370.2 227.1 L370.3 225.1 L368.9 224.7 M402.2 166.0 L401.3 166.5 L401.3 167.7 L402.7 168.8 L404.0 168.5 L405.9 167.3 L406.6 166.7 M403.3 162.6 L402.5 163.6 L401.0 165.0 L399.9 165.4 L398.6 165.9 L398.1 164.8 L396.6 164.0 L395.4 165.0 M390.4 166.3 L390.9 165.0 L391.7 163.1 L393.3 163.4 L394.9 162.4 L396.0 162.7 L397.8 162.8 Z M386.8 170.8 L385.2 170.9 L384.0 171.2 L383.4 172.1 L382.6 173.2 L382.0 173.7 M400.1 165.8 L400.7 167.8 L401.5 168.1 L402.1 166.7 L403.0 165.8 L404.5 165.3 L405.4 166.3 L405.3 167.8 M395.0 176.9 L394.8 178.7 L394.0 180.5 L392.5 180.6 L391.0 179.5 L390.9 178.0 L392.3 176.8 M379.6 175.9 L378.7 176.3 L377.0 177.8 L377.6 179.7 Z M393.4 163.8 L392.3 163.1 L390.7 163.0 L389.2 162.4 L388.5 164.1 L387.3 163.7 L385.8 164.1 M306.7 160.6 L306.3 161.7 L304.4 162.0 L304.1 161.0 L303.1 159.1 Z M298.9 165.8 L298.4 166.9 L297.4 167.9 L295.7 167.4 L294.2 167.3 L293.9 169.0 L293.9 169.9 Z M302.6 161.5 L301.1 162.1 L299.6 160.6 L298.6 159.6 L297.7 157.6 L296.4 156.7 L296.5 155.7 L295.5 153.8 M308.3 153.1 L309.6 151.3 L310.9 151.8 L311.7 150.9 L312.9 149.9 L312.7 148.9 M310.1 159.9 L309.3 160.2 L307.8 159.7 L307.9 158.3 Z M298.3 150.8 L297.2 150.6 L295.9 149.7 L296.9 148.5 L297.2 147.6 Z M313.2 153.0 L312.7 154.4 L312.4 155.8 L310.8 156.4 M309.6 154.0 L310.0 155.1 L312.1 154.9 L313.4 155.1 L314.7 155.0 Z M315.8 166.3 L314.7 166.3 L314.4 168.4 L313.2 168.8 M314.3 158.5 L312.3 159.2 L312.5 160.9 L311.8 162.4 L311.6 163.7 L311.0 164.3 L310.2 163.9 L309.1 164.7 Z" fill="none" stroke="#2fd3d3" stroke-width="1.05" stroke-linejoin="round"/>
<path d="M200.0 72.0 L201.0 72.6 L204.7 70.7 L206.0 70.9 L208.4 71.4 L208.9 69.1 L212.9 69.8 L214.7 68.2 L215.9 69.6 L217.3 69.7 L221.0 66.8 L220.8 67.6 L225.1 66.7 L225.3 68.3 L226.8 69.3 L229.8 70.5 L231.3 70.3 L233.3 71.4 L235.5 70.8 L238.9 72.6 L240.4 72.2 L243.3 73.4 L243.0 71.6 L246.6 72.0 L249.1 70.8 L250.9 70.9 L251.5 70.2 L255.0 71.3 L256.0 71.0 L256.8 70.5 L260.8 71.4 L261.1 72.1 L264.5 72.5 L265.7 71.8 L268.0 72.7 L270.1 71.7 L272.0 70.8 L272.8 72.5 L277.1 72.4 L277.3 71.5 L279.4 73.9 L281.9 72.9 L283.9 72.3 L284.8 74.4 L286.8 73.3 L287.8 73.7 L291.4 72.5 L292.7 74.8 L295.0 74.4 L296.8 73.5 L298.2 73.1 L298.8 74.0 L302.2 71.4 L304.0 71.4 L305.6 70.2 L308.1 70.1 L310.3 68.9 L310.2 67.2 L312.0 66.9 L315.2 66.3 L316.5 65.3 L316.5 64.2 L319.0 61.1 L318.7 59.7 L322.7 60.7 L323.0 62.0 L325.6 60.9 L325.8 64.1 L326.5 65.4 L328.6 67.9 L329.2 69.3 L330.1 70.4 L332.8 71.2 L333.0 75.5 L335.0 76.2 L336.3 79.5 L335.8 79.1 L337.1 82.6 L338.8 83.1 L341.9 83.3 L342.4 85.0 L345.6 84.3 L345.9 85.2 L348.0 85.6 L349.5 86.3 L348.5 87.5 L350.4 91.0 L348.3 92.9 L347.9 95.1 L348.6 95.8 L345.9 96.2 L346.0 97.8 L344.3 101.7 L342.2 101.1 L344.3 104.6 L345.2 104.7 L345.7 105.6 L346.6 107.8 L348.5 107.9 L349.0 110.4 L350.5 112.0 L351.5 115.0 L354.0 114.7 L353.2 117.6 L356.3 120.7 L355.6 121.3 L357.5 124.9 L359.1 125.6 L360.7 127.1 L361.4 128.4 L362.5 128.3 L363.8 127.4 L367.6 128.1 L369.0 129.7 L370.9 129.7 L370.1 131.5 L372.0 134.3 L372.7 137.0 L371.1 138.1 L369.5 138.3 L367.9 142.0 L368.2 143.4 L366.0 144.0 M322.0 70.0 L324.9 72.3 L323.7 70.8 L327.5 73.7 L328.5 73.4 L329.8 73.3 L331.2 71.0 L332.3 70.7 L334.7 71.5 L336.8 71.6 L336.8 72.3 L337.1 73.1 L339.9 75.5 L338.6 79.2 L338.1 80.2 L336.2 80.6 L335.5 82.9 L334.5 84.5 L333.5 81.0 L332.7 81.9 L330.7 81.2 L329.3 81.9 L326.6 83.4 L326.9 82.0 L324.8 84.6 L325.4 85.6 L327.0 88.3 L328.5 89.5 L329.6 91.1 L333.2 90.3 L334.2 92.1 L336.7 91.2 L337.2 91.1 L340.6 91.0 L342.7 90.3 L344.2 89.4 L345.9 89.6 L346.0 88.1 L346.0 86.3 L344.4 83.1 L344.5 83.3 L344.0 80.0 M330.0 76.0 L330.8 77.4 L332.4 78.9 L334.3 79.1 L335.0 79.7 L337.5 77.5 L338.0 75.9 L336.7 74.0 L334.3 74.0 L332.3 76.1 L330.0 76.0 M340.0 84.0 L341.0 81.2 L342.8 79.3 L343.1 81.8 L345.8 84.6 L344.0 85.4 L342.1 87.6 L340.3 85.2 L340.0 84.0 M346.0 74.0 L348.2 72.4 L349.0 74.7 L349.4 76.7 L346.2 77.9 L347.2 76.2 L346.0 74.0 M338.0 96.0 L340.2 97.8 L341.0 97.4 L341.3 99.4 L343.9 100.6 L345.7 100.1 L347.5 99.7 L350.6 98.3 L352.1 98.4 L352.3 99.6 L354.7 100.4 L355.7 102.9 L356.8 103.6 L353.5 105.7 L353.7 105.9 L350.5 106.3 L350.0 108.0 M228.0 100.0 L226.6 97.2 L226.7 95.2 L225.4 94.3 L223.1 92.9 L222.2 90.9 L221.4 88.1 L221.6 88.5 L219.8 84.9 L220.4 85.3 L218.5 84.1 L217.9 83.5 L215.7 84.7 L211.8 84.6 L210.5 87.2 L208.4 86.9 L208.0 86.7 L205.9 86.2 L202.7 87.1 L202.5 88.2 L199.4 89.1 L197.9 88.6 L196.9 90.2 L193.2 90.2 L192.1 91.5 L190.7 90.2 L189.4 90.1 L185.8 92.4 L183.0 92.0 L181.0 93.7 L181.6 94.6 L180.3 95.0 L178.2 97.1 L176.2 97.9 L175.4 100.5 L172.7 100.9 L169.9 102.2 L170.0 104.3 L169.0 103.4 L165.7 105.5 L162.6 105.9 L161.0 105.9 L158.7 108.8 L156.9 107.7 L155.7 110.1 L152.7 109.3 L152.1 111.2 L151.0 112.1 L147.3 111.7 L145.6 114.2 L145.4 113.0 L141.8 114.7 L140.7 117.0 L140.5 117.8 L137.5 119.8 L138.3 122.2 L139.7 124.6 L138.0 126.4 L139.5 126.2 L141.2 129.8 L142.1 131.4 L141.7 131.7 L141.8 133.9 L142.7 133.7 L144.1 135.5 L145.5 136.7 L145.2 139.0 L146.1 141.6 L146.6 145.1 L149.3 144.4 L149.3 146.5 L150.6 147.4 L153.0 151.5 L151.4 152.0 L149.8 152.8 L150.0 155.3 L151.0 157.0 L149.6 160.9 L152.1 159.9 L153.1 161.1 L154.1 165.4 L154.1 166.1 L151.3 166.6 L150.0 169.3 L150.0 170.0 M204.0 90.0 L204.5 93.2 L205.7 93.7 L207.0 93.6 L211.8 95.0 L212.0 94.9 L212.8 94.0 L213.4 94.2 L214.5 91.0 L215.8 92.7 L218.7 96.4 L220.1 95.1 L221.1 99.8 L218.4 99.4 L217.6 100.6 L215.4 101.7 L214.0 102.5 L213.9 101.3 L209.7 98.4 L211.1 99.0 L206.9 99.6 L207.6 100.8 L208.0 101.2 L205.5 105.4 L206.7 105.5 L208.6 105.7 L212.7 107.1 L215.2 106.0 L214.9 103.7 L218.1 104.0 L218.5 104.5 L222.0 102.7 L222.0 99.1 L222.2 97.4 L224.2 95.7 L226.0 94.0 M146.0 140.0 L146.9 141.1 L146.9 144.1 L147.5 144.5 L151.2 144.7 L152.2 145.7 L152.6 144.3 L156.6 143.9 L155.9 145.0 L153.7 146.8 L153.8 151.3 L153.3 152.8 L155.2 151.7 L156.8 149.4 L157.8 152.7 L156.3 152.8 L155.1 155.1 L155.0 158.0 M304.0 182.0 L304.7 179.8 L305.2 177.3 L306.3 176.8 L306.4 173.2 L307.5 172.1 L308.4 172.1 L311.7 168.4 L312.9 168.2 L312.5 169.2 L313.9 171.4 L314.7 173.6 L314.1 175.6 L316.9 177.9 L316.8 177.4 L316.1 179.4 L319.1 181.5 L319.7 182.0 L321.6 180.1 L323.8 178.0 L326.2 178.8 L327.2 176.7 L329.8 175.6 L332.0 176.8 L334.4 175.7 L336.9 174.4 L338.2 174.5 L340.2 173.5 L342.7 173.0 L343.2 174.0 L347.1 172.3 L347.8 171.1 L349.5 171.3 L351.2 171.1 L353.9 172.2 L353.4 175.5 L352.7 176.5 L350.6 178.1 L348.8 180.5 L348.3 181.1 L346.5 182.9 L346.4 184.2 L345.9 186.4 L344.2 188.1 L345.6 190.0 L344.6 191.0 L344.2 193.9 L343.8 195.8 L345.4 197.7 L346.4 198.4 L347.5 201.9 L348.6 201.3 L348.8 204.1 L350.4 204.5 L352.1 206.9 L355.7 208.5 L356.0 210.0 M355.0 208.0 L355.9 210.1 L358.0 211.9 L358.0 214.2 L355.9 215.4 L355.6 217.4 L353.0 217.5 L352.0 220.7 L352.5 220.9 L352.2 225.1 L350.4 226.3 L350.8 226.0 L353.3 227.3 L354.1 229.0 L355.3 230.7 L357.9 232.8 L360.0 232.3 L362.0 232.4 L363.9 231.5 L367.2 233.2 L368.8 232.5 L369.6 231.4 L371.5 230.0 L374.6 229.8 L376.8 228.7 L379.1 228.8 L378.8 226.3 L383.0 225.9 L385.2 224.8 L385.0 224.3 L388.0 224.8 L387.7 226.3 L391.1 228.6 L390.1 229.4 L391.0 230.9 L393.7 233.2 L394.1 235.9 L395.3 237.4 L397.1 237.9 L399.1 238.2 L401.3 238.6 L405.1 240.7 L405.0 242.4 L406.3 242.7 L409.4 244.8 L410.0 246.0 M356.0 236.0 L357.9 237.4 L360.4 237.1 L360.8 238.7 L363.5 240.7 L366.5 239.2 L368.1 238.4 L369.1 236.9 L371.2 237.0 L371.4 238.8 L372.0 240.4 L373.1 241.8 L374.8 242.8 L370.9 246.0 L370.0 245.0 L369.2 248.1 L365.1 247.8 L363.1 246.6 L362.3 245.2 L360.5 243.9 L357.2 244.8 L357.3 241.8 L357.2 239.9 L356.2 236.9 L356.0 236.0 M382.0 234.0 L383.5 235.4 L386.4 236.7 L387.4 236.5 L389.3 237.5 L392.0 238.8 L393.1 240.4 L394.1 242.4 L396.7 244.2 L396.5 242.6 L398.3 242.7 L401.1 241.6 L402.0 240.0 M344.0 238.0 L344.7 239.9 L347.3 241.9 L348.0 242.0 L350.5 244.3 L348.6 245.9 L347.8 247.6 L346.2 247.9 L346.0 250.0 M306.0 314.0 L309.1 312.0 L310.6 311.6 L313.2 310.4 L314.9 311.2 L316.9 311.2 L317.4 308.8 L320.5 307.9 L321.4 306.9 L324.9 307.7 L326.7 305.3 L329.0 305.7 L329.4 305.2 L331.8 304.0 L334.2 304.3 L336.2 305.4 L338.3 303.8 L340.5 304.0 L341.2 302.7 L341.6 299.5 L343.6 300.3 L346.5 298.5 L344.5 296.5 L344.9 294.0 L342.1 292.4 L341.9 292.8 L340.1 292.3 L338.0 292.2 L337.1 293.1 L333.4 293.5 L333.4 292.2 L332.3 290.9 L329.9 289.0 L332.5 289.2 L332.9 286.1 L334.5 285.2 L336.8 285.0 L338.2 282.3 L338.1 282.5 L341.9 279.6 L342.4 279.2 L345.1 276.9 L343.4 276.8 L345.2 273.9 L346.2 272.2 L346.5 269.4 L346.6 267.6 L348.8 268.0 L350.5 266.0 L352.7 265.7 L354.0 264.0 M236.0 322.0 L237.4 320.9 L239.7 319.8 L241.6 319.6 L243.0 318.5 L243.5 318.7 L246.3 319.6 L249.5 321.7 L251.2 325.8 L251.0 324.6 L255.2 322.7 L254.1 320.8 L258.5 319.2 L257.9 321.2 L259.0 325.2 L260.4 325.7 L262.6 329.8 L259.2 327.2 L259.9 331.3 L257.2 331.1 L252.9 330.6 L251.2 330.8 L248.3 330.8 L248.9 327.1 L247.4 328.0 L246.2 329.4 L244.2 330.8 L242.0 332.5 L238.1 332.6 L240.9 334.6 L243.5 336.2 L246.6 336.6 L247.3 338.0 L251.8 338.6 L252.6 338.3 L252.9 334.9 L254.4 334.5 L255.5 338.0 L260.7 337.5 L261.2 342.3 L263.1 340.6 L260.6 341.8 L256.7 341.6 L256.1 346.1 L252.4 343.8 L251.6 344.2 L249.9 345.9 L247.8 342.2 L244.1 341.8 L244.0 342.0 M250.0 326.0 L251.6 328.2 L254.8 327.2 L255.6 329.8 L256.6 328.4 L256.1 328.5 L261.0 327.0 L262.0 326.3 L265.4 327.8 L265.1 329.5 L265.2 330.3 L270.0 329.1 L270.8 332.2 L269.8 331.8 L266.2 335.5 L264.6 334.2 L260.3 337.8 L263.4 339.0 L263.6 339.2 L267.8 340.7 L266.1 339.5 L267.7 339.5 L270.4 338.8 L272.0 336.6 L275.5 333.0 L275.7 336.8 L277.1 335.4 L277.6 338.1 L280.0 338.0 M256.0 314.0 L256.5 315.5 L258.5 315.1 L260.5 317.0 L261.9 317.9 L262.8 316.3 L265.6 315.5 L267.0 315.9 L269.1 315.3 L268.2 314.7 L270.7 317.2 L270.1 319.0 L272.0 320.0 M290.0 280.0 L291.7 281.9 L292.7 282.7 L293.8 285.0 L295.6 282.3 L298.0 282.0 M300.0 276.0 L302.1 277.7 L303.2 279.5 L304.0 280.0 M107.0 158.0 L107.7 156.8 L109.7 155.0 L110.3 154.0 L112.5 152.0 L113.3 150.2 L113.9 149.1 L116.0 148.0 M128.0 216.0 L130.4 216.3 L130.0 219.0 L131.9 218.2 L134.3 219.7 L133.8 221.0 L132.9 222.6 L131.2 225.4 L130.4 226.8 L131.9 226.1 L133.8 228.2 L134.1 228.4 L136.0 230.0 M146.0 214.0 L148.3 215.9 L149.8 215.2 L150.7 216.8 L152.1 217.3 L152.7 216.6 L154.1 215.2 L156.0 214.0 M222.4 91.7 L224.4 91.2 L225.0 89.5 L227.0 89.1 M222.9 94.5 L224.6 94.0 L224.6 93.1 L225.4 91.9 L223.9 90.5 L223.2 88.7 L221.2 88.9 L221.1 90.9 M210.8 96.8 L209.4 98.0 L207.8 96.6 L206.7 96.7 L206.3 95.0 L206.1 94.0 M217.4 92.3 L217.5 91.5 L217.6 89.3 L217.8 88.2 M217.2 98.4 L217.1 96.2 L216.4 95.4 L215.3 95.3 L214.8 93.6 L212.6 93.3 L212.8 91.4 Z M216.5 102.1 L218.4 101.5 L219.5 102.8 L220.6 103.0 L221.9 102.4 L221.9 100.9 L220.4 99.4 M214.9 91.9 L216.1 92.4 L216.8 91.4 L217.8 90.8 L218.7 91.2 L218.8 92.2 M211.9 92.8 L211.1 94.6 L212.3 96.2 L212.0 97.8 L210.4 98.7 M209.7 97.9 L210.1 99.9 L209.8 101.7 L208.9 102.1 L207.4 102.5 M220.1 101.2 L221.9 100.0 L222.8 99.9 L222.7 98.2 L224.0 98.0 L224.9 97.8 L224.5 96.3 L223.4 95.7 M205.4 102.9 L206.9 104.1 L208.5 105.1 L208.4 106.2 L207.4 106.9 L206.0 107.1 L205.5 106.4 L206.3 105.5 Z M216.7 91.2 L218.5 91.4 L219.9 90.7 L219.5 89.9 L217.8 89.3 L216.9 87.9 L215.4 87.4 L214.0 87.1 Z M221.9 91.2 L221.3 89.8 L222.6 88.1 L223.2 87.1 Z M222.9 91.4 L223.2 92.5 L224.2 93.8 L224.4 95.0 L225.8 95.1 L227.8 95.3 L228.8 95.0 L229.4 96.6 M339.6 72.4 L339.9 71.0 L341.8 70.4 L342.3 71.1 L343.2 71.4 L344.9 70.2 L346.9 69.4 M344.8 80.8 L345.3 80.2 L346.9 79.4 L347.4 78.7 L347.5 77.8 L348.4 78.0 M345.9 89.6 L345.0 90.9 L345.6 91.6 L346.6 92.6 L348.3 93.5 L348.8 94.4 M339.7 79.5 L339.3 80.7 L338.1 80.5 L336.9 80.0 L334.9 79.7 L335.1 78.4 Z M341.5 74.9 L341.4 75.8 L342.9 76.3 L344.8 76.1 Z M325.2 73.4 L326.0 74.5 L326.6 75.3 L328.1 75.7 L328.0 76.7 L327.9 78.6 L326.9 78.7 Z M346.6 93.4 L345.5 94.7 L346.5 96.2 L346.4 98.2 L345.5 100.0 L344.2 101.1 L344.4 102.5 M325.0 92.5 L325.4 93.6 L324.7 95.5 L326.1 96.2 L326.4 97.0 M326.8 84.4 L328.5 84.3 L329.4 83.6 L330.1 82.4 L330.7 81.5 L328.8 80.4 L327.5 79.8 L326.1 78.4 M343.5 79.6 L344.2 80.1 L345.6 80.7 L346.4 79.2 Z M258.5 338.7 L259.1 340.6 L258.6 342.5 L259.5 342.7 L260.9 343.8 L261.7 343.2 L262.7 344.0 L262.6 345.9 M258.2 325.3 L256.9 325.4 L254.9 324.9 L253.8 324.8 L253.9 323.3 L254.4 321.7 Z M248.4 324.8 L247.1 325.9 L246.2 325.4 L246.1 324.5 L246.1 322.8 L245.1 321.0 L244.7 319.4 M240.9 343.8 L240.3 342.7 L239.5 342.0 L238.6 341.9 L237.4 343.1 L236.5 342.3 L235.6 341.4 M262.4 342.3 L263.1 341.4 L263.1 339.7 L262.8 338.5 L261.3 338.7 L260.5 338.5 Z M253.9 327.3 L254.2 328.9 L254.1 330.0 L253.5 331.3 L254.8 332.9 L255.8 332.9 L256.4 331.3 L258.3 331.2 M245.4 320.3 L246.9 319.7 L248.4 319.6 L249.4 319.5 L249.4 318.7 L248.3 318.7 L247.4 320.6 L248.7 321.7 M243.5 329.9 L242.2 328.8 L242.4 327.8 L241.8 326.7 L239.9 327.4 L238.3 326.5 L237.3 328.2 L235.9 328.5 M250.7 325.4 L250.2 326.3 L248.1 325.8 L248.2 324.7 Z M255.8 336.3 L257.2 334.7 L258.1 335.1 L259.0 335.6 L258.6 337.5 L259.4 338.3 L258.8 339.2 L258.5 340.8 M261.9 342.1 L260.7 340.7 L261.4 339.5 L262.9 338.9 L263.5 338.0 L264.2 337.4 L265.0 338.1 L265.6 337.4 M247.7 323.4 L248.6 322.0 L248.0 321.4 L246.5 322.8 M243.6 342.9 L242.6 341.1 L244.2 339.7 L243.7 338.7 L242.9 338.8 L241.8 337.2 L241.6 335.2 L241.9 334.1 Z M240.7 338.2 L241.0 339.3 L242.4 340.9 L244.0 339.8 L245.4 341.1 M251.3 326.9 L249.9 326.4 L249.1 327.6 L250.3 328.7 M261.2 333.8 L262.1 333.2 L264.2 333.9 L264.6 332.5 L265.1 330.6 L264.1 329.5 M261.3 326.3 L262.4 327.6 L263.1 328.3 L263.3 329.2 L262.2 330.6 M255.6 328.5 L256.9 329.9 L258.3 330.8 L259.5 330.9 L261.1 330.8 L262.0 328.8 L263.6 327.4 Z" fill="none" stroke="#ffffff" stroke-width="1.05" stroke-linejoin="round"/>
<path d="M349.5 363.0 L353.0 361.0 L358.0 359.5 M350.5 364.0 L354.0 366.5 L356.0 369.0 M354.5 371.0 L355.5 372.5 M347.5 373.0 L349.5 374.5 M382.5 362.0 L383.5 363.5 M385.0 365.0 L387.5 366.5 M389.5 363.5 L391.5 364.5" fill="none" stroke="#ffffff" stroke-width="2.2" stroke-linecap="round" stroke-linejoin="round"/>
<circle cx="196.0" cy="69.4" r="3.7" fill="#000" stroke="#fff" stroke-width="0.9"/>
<circle cx="298.6" cy="331.6" r="3.7" fill="#000" stroke="#fff" stroke-width="0.9"/>
<circle cx="327.0" cy="399.4" r="3.7" fill="#000" stroke="#fff" stroke-width="0.9"/>
<text x="194.0" y="52.5" textLength="51.0" lengthAdjust="spacingAndGlyphs" font-size="15.2" fill="#111">Barrow</text>
<text x="304.0" y="337.0" textLength="104.0" lengthAdjust="spacingAndGlyphs" font-size="15.2" fill="#111">Longyearbyen</text>
<text x="332.0" y="404.3" textLength="53.0" lengthAdjust="spacingAndGlyphs" font-size="15.2" fill="#111">Tromso</text></g></defs>
<g transform="translate(0,0)">
<use href="#base"/>
<g clip-path="url(#clip)"><circle cx="264.7" cy="83.6" r="4.5" fill="#0583C6"/><circle cx="267.0" cy="88.0" r="4.5" fill="#0583C6"/><circle cx="269.2" cy="91.7" r="4.5" fill="#0583C6"/><circle cx="269.9" cy="96.1" r="4.5" fill="#0583C6"/><circle cx="269.2" cy="100.5" r="4.5" fill="#0583C6"/><circle cx="270.6" cy="104.2" r="4.5" fill="#0583C6"/><circle cx="275.8" cy="107.2" r="4.5" fill="#0583C6"/><circle cx="280.2" cy="108.7" r="4.5" fill="#0B8DCB"/><circle cx="284.7" cy="107.2" r="4.5" fill="#82BBE2"/><circle cx="290.5" cy="99.8" r="4.5" fill="#5CABDB"/><circle cx="294.2" cy="97.6" r="4.5" fill="#0B8DCB"/><circle cx="286.1" cy="102.8" r="4.5" fill="#A9CFEA"/><circle cx="288.3" cy="98.3" r="4.5" fill="#A9CFEA"/><circle cx="290.5" cy="93.9" r="4.5" fill="#CDDDEF"/><circle cx="292.8" cy="90.2" r="4.5" fill="#A9CFEA"/><circle cx="295.0" cy="86.5" r="4.5" fill="#82BBE2"/><circle cx="297.9" cy="100.5" r="4.5" fill="#0078BE"/><circle cx="277.3" cy="71.8" r="4.5" fill="#0078BE"/><circle cx="280.2" cy="74.7" r="4.5" fill="#0583C6"/><circle cx="283.2" cy="77.0" r="4.5" fill="#0583C6"/><circle cx="286.9" cy="79.9" r="4.5" fill="#0B8DCB"/><circle cx="290.5" cy="82.1" r="4.5" fill="#0B8DCB"/><circle cx="294.2" cy="84.3" r="4.5" fill="#5CABDB"/><circle cx="244.8" cy="88.7" r="4.5" fill="#5CABDB"/><circle cx="247.0" cy="85.8" r="4.5" fill="#5CABDB"/><circle cx="250.0" cy="82.0" r="4.5" fill="#82BBE2"/><circle cx="252.2" cy="77.7" r="4.5" fill="#5CABDB"/><circle cx="250.7" cy="73.3" r="4.5" fill="#5CABDB"/><circle cx="299.4" cy="80.6" r="4.5" fill="#F2F5F9"/><circle cx="303.0" cy="80.5" r="4.5" fill="#E6ECF4"/><circle cx="301.6" cy="85.8" r="4.5" fill="#F2F5F9"/><circle cx="305.3" cy="89.5" r="4.5" fill="#E6ECF4"/><circle cx="308.2" cy="91.7" r="4.5" fill="#CDDDEF"/><circle cx="318.6" cy="95.4" r="4.5" fill="#A9CFEA"/><circle cx="320.0" cy="102.8" r="4.5" fill="#E6ECF4"/><circle cx="321.5" cy="108.6" r="4.5" fill="#E6ECF4"/><circle cx="323.0" cy="115.3" r="4.5" fill="#E6ECF4"/><circle cx="325.9" cy="119.0" r="4.5" fill="#CDDDEF"/><circle cx="329.6" cy="121.2" r="4.5" fill="#A9CFEA"/><circle cx="345.1" cy="127.1" r="4.5" fill="#0583C6"/><circle cx="341.4" cy="126.3" r="4.5" fill="#0B8DCB"/><circle cx="337.7" cy="124.9" r="4.5" fill="#2297D2"/><circle cx="337.7" cy="130.0" r="4.5" fill="#0B8DCB"/><circle cx="333.3" cy="127.8" r="4.5" fill="#A9CFEA"/><circle cx="334.0" cy="132.2" r="4.5" fill="#2297D2"/><circle cx="306.0" cy="113.1" r="4.5" fill="#0B8DCB"/><circle cx="307.5" cy="117.5" r="4.5" fill="#A9CFEA"/><circle cx="305.3" cy="121.2" r="4.5" fill="#A9CFEA"/><circle cx="301.6" cy="124.9" r="4.5" fill="#0B8DCB"/><circle cx="300.1" cy="127.8" r="4.5" fill="#0B8DCB"/><circle cx="296.4" cy="133.7" r="4.5" fill="#82BBE2"/><circle cx="294.2" cy="135.9" r="4.5" fill="#5CABDB"/><circle cx="314.0" cy="148.0" r="4.5" fill="#0B8DCB"/><circle cx="222.1" cy="180.7" r="4.5" fill="#F2F5F9"/><circle cx="225.8" cy="179.7" r="4.5" fill="#F2F5F9"/><circle cx="267.2" cy="184.3" r="4.5" fill="#0B8DCB"/><circle cx="270.9" cy="186.2" r="4.5" fill="#0583C6"/><circle cx="274.6" cy="188.9" r="4.5" fill="#0B8DCB"/><circle cx="276.5" cy="192.6" r="4.5" fill="#2297D2"/><circle cx="275.5" cy="195.4" r="4.5" fill="#5CABDB"/><circle cx="255.3" cy="208.3" r="4.5" fill="#82BBE2"/><circle cx="251.6" cy="200.0" r="4.5" fill="#E6ECF4"/><circle cx="249.8" cy="204.6" r="4.5" fill="#CDDDEF"/><circle cx="251.6" cy="209.2" r="4.5" fill="#E6ECF4"/><circle cx="253.4" cy="211.0" r="4.5" fill="#CDDDEF"/><circle cx="260.8" cy="223.9" r="4.5" fill="#F2F5F9"/><circle cx="274.6" cy="234.1" r="4.5" fill="#A9CFEA"/><circle cx="270.9" cy="232.2" r="4.5" fill="#CDDDEF"/><circle cx="267.2" cy="230.4" r="4.5" fill="#CDDDEF"/><circle cx="263.6" cy="233.1" r="4.5" fill="#E6ECF4"/><circle cx="258.0" cy="233.5" r="4.5" fill="#E6ECF4"/><circle cx="253.4" cy="233.1" r="4.5" fill="#F2F5F9"/><circle cx="288.4" cy="219.3" r="4.5" fill="#2297D2"/><circle cx="289.3" cy="224.3" r="4.5" fill="#F2F5F9"/><circle cx="287.5" cy="232.2" r="4.5" fill="#F2F5F9"/><circle cx="285.7" cy="235.0" r="4.5" fill="#F2F5F9"/><circle cx="289.3" cy="237.7" r="4.5" fill="#F2F5F9"/><circle cx="293.0" cy="192.6" r="4.5" fill="#F2F5F9"/><circle cx="295.8" cy="190.8" r="4.5" fill="#F2F5F9"/><circle cx="298.6" cy="188.9" r="4.5" fill="#0583C6"/><circle cx="303.2" cy="187.1" r="4.5" fill="#0583C6"/><circle cx="306.9" cy="188.0" r="4.5" fill="#0583C6"/><circle cx="311.4" cy="189.9" r="4.5" fill="#0583C6"/><circle cx="333.6" cy="200.9" r="4.5" fill="#F2F5F9"/><circle cx="353.8" cy="186.2" r="4.5" fill="#CDDDEF"/><circle cx="352.9" cy="190.8" r="4.5" fill="#CDDDEF"/><circle cx="351.0" cy="195.4" r="4.5" fill="#CDDDEF"/><circle cx="349.2" cy="200.0" r="4.5" fill="#CDDDEF"/><circle cx="347.4" cy="203.7" r="4.5" fill="#CDDDEF"/><circle cx="343.7" cy="212.5" r="4.5" fill="#A9CFEA"/><circle cx="341.8" cy="218.4" r="4.5" fill="#F2F5F9"/><circle cx="343.5" cy="224.0" r="4.5" fill="#E6ECF4"/><circle cx="340.9" cy="223.9" r="4.5" fill="#F2F5F9"/><circle cx="339.1" cy="228.5" r="4.5" fill="#F2F5F9"/><circle cx="342.8" cy="233.1" r="4.5" fill="#E6ECF4"/><circle cx="340.9" cy="240.5" r="4.5" fill="#CDDDEF"/><circle cx="341.8" cy="245.1" r="4.5" fill="#A9CFEA"/><circle cx="343.7" cy="250.6" r="4.5" fill="#2297D2"/><circle cx="282.4" cy="270.0" r="4.5" fill="#F2F5F9"/></g>
<use href="#over"/>
<text x="395.2" y="66" textLength="33" lengthAdjust="spacingAndGlyphs" font-size="27" fill="#000" stroke="#000" stroke-width="0.35">(a)</text>
</g>
<rect x="104.45" y="32.95" width="333.95" height="383.50" fill="none" stroke="#000" stroke-width="2.9" stroke-linejoin="round"/>
<g transform="translate(460,0)">
<use href="#base"/>
<g clip-path="url(#clip)"><circle cx="264.7" cy="83.6" r="4.5" fill="#ddcba4"/><circle cx="267.0" cy="88.0" r="4.5" fill="#e5e0b0"/><circle cx="269.2" cy="91.7" r="4.5" fill="#e5e0b0"/><circle cx="269.9" cy="96.1" r="4.5" fill="#e1d6aa"/><circle cx="269.2" cy="100.5" r="4.5" fill="#ddcba4"/><circle cx="270.6" cy="104.2" r="4.5" fill="#ca998b"/><circle cx="275.8" cy="107.2" r="4.5" fill="#dac6a1"/><circle cx="280.2" cy="108.7" r="4.5" fill="#dac6a1"/><circle cx="284.7" cy="107.2" r="4.5" fill="#ddcba4"/><circle cx="290.5" cy="99.8" r="4.5" fill="#e7e5b2"/><circle cx="294.2" cy="97.6" r="4.5" fill="#ca998b"/><circle cx="286.1" cy="102.8" r="4.5" fill="#d8c09e"/><circle cx="288.3" cy="98.3" r="4.5" fill="#d8c09e"/><circle cx="290.5" cy="93.9" r="4.5" fill="#dac6a1"/><circle cx="292.8" cy="90.2" r="4.5" fill="#ddcba4"/><circle cx="295.0" cy="86.5" r="4.5" fill="#e3dbad"/><circle cx="297.9" cy="100.5" r="4.5" fill="#f5f5e1"/><circle cx="277.3" cy="71.8" r="4.5" fill="#fbfbf3"/><circle cx="280.2" cy="74.7" r="4.5" fill="#ebebbe"/><circle cx="283.2" cy="77.0" r="4.5" fill="#e7e5b2"/><circle cx="286.9" cy="79.9" r="4.5" fill="#e1d6aa"/><circle cx="290.5" cy="82.1" r="4.5" fill="#ddcba4"/><circle cx="294.2" cy="84.3" r="4.5" fill="#dac6a1"/><circle cx="244.8" cy="88.7" r="4.5" fill="#e9e9b6"/><circle cx="247.0" cy="85.8" r="4.5" fill="#e9e9b6"/><circle cx="250.0" cy="82.0" r="4.5" fill="#e9e9b6"/><circle cx="252.2" cy="77.7" r="4.5" fill="#e3dbad"/><circle cx="250.7" cy="73.3" r="4.5" fill="#ddcba4"/><circle cx="299.4" cy="80.6" r="4.5" fill="#d8c09e"/><circle cx="303.0" cy="80.5" r="4.5" fill="#ca998b"/><circle cx="301.6" cy="85.8" r="4.5" fill="#dac6a1"/><circle cx="305.3" cy="89.5" r="4.5" fill="#ddcba4"/><circle cx="308.2" cy="91.7" r="4.5" fill="#e1d6aa"/><circle cx="318.6" cy="95.4" r="4.5" fill="#e3dbad"/><circle cx="320.0" cy="102.8" r="4.5" fill="#e3dbad"/><circle cx="321.5" cy="108.6" r="4.5" fill="#e5e0b0"/><circle cx="323.0" cy="115.3" r="4.5" fill="#c89187"/><circle cx="325.9" cy="119.0" r="4.5" fill="#ddcba4"/><circle cx="329.6" cy="121.2" r="4.5" fill="#fdfdf9"/><circle cx="345.1" cy="127.1" r="4.5" fill="#e9e9b6"/><circle cx="341.4" cy="126.3" r="4.5" fill="#e7e5b2"/><circle cx="337.7" cy="124.9" r="4.5" fill="#e1d6aa"/><circle cx="337.7" cy="130.0" r="4.5" fill="#e1d6aa"/><circle cx="333.3" cy="127.8" r="4.5" fill="#ddcba4"/><circle cx="334.0" cy="132.2" r="4.5" fill="#f7f7e7"/><circle cx="306.0" cy="113.1" r="4.5" fill="#d1ad95"/><circle cx="307.5" cy="117.5" r="4.5" fill="#dac6a1"/><circle cx="305.3" cy="121.2" r="4.5" fill="#ddcba4"/><circle cx="301.6" cy="124.9" r="4.5" fill="#ebebbe"/><circle cx="300.1" cy="127.8" r="4.5" fill="#ebebbe"/><circle cx="296.4" cy="133.7" r="4.5" fill="#dac6a1"/><circle cx="294.2" cy="135.9" r="4.5" fill="#ddcba4"/><circle cx="314.0" cy="148.0" r="4.5" fill="#f5f5e1"/><circle cx="222.1" cy="180.7" r="4.5" fill="#e9e9b6"/><circle cx="225.8" cy="179.7" r="4.5" fill="#e7e5b2"/><circle cx="267.2" cy="184.3" r="4.5" fill="#ddcba4"/><circle cx="270.9" cy="186.2" r="4.5" fill="#ddcba4"/><circle cx="274.6" cy="188.9" r="4.5" fill="#dac6a1"/><circle cx="276.5" cy="192.6" r="4.5" fill="#dac6a1"/><circle cx="275.5" cy="195.4" r="4.5" fill="#e9e9b6"/><circle cx="255.3" cy="208.3" r="4.5" fill="#e1d6aa"/><circle cx="251.6" cy="200.0" r="4.5" fill="#f3f3da"/><circle cx="249.8" cy="204.6" r="4.5" fill="#e7e5b2"/><circle cx="251.6" cy="209.2" r="4.5" fill="#ddcba4"/><circle cx="253.4" cy="211.0" r="4.5" fill="#dac6a1"/><circle cx="260.8" cy="223.9" r="4.5" fill="#ddcba4"/><circle cx="274.6" cy="234.1" r="4.5" fill="#c38180"/><circle cx="270.9" cy="232.2" r="4.5" fill="#d8c09e"/><circle cx="267.2" cy="230.4" r="4.5" fill="#dac6a1"/><circle cx="263.6" cy="233.1" r="4.5" fill="#dac6a1"/><circle cx="258.0" cy="233.5" r="4.5" fill="#d8c09e"/><circle cx="253.4" cy="233.1" r="4.5" fill="#cfa792"/><circle cx="288.4" cy="219.3" r="4.5" fill="#e9e9b6"/><circle cx="289.3" cy="224.3" r="4.5" fill="#e9e9b6"/><circle cx="287.5" cy="232.2" r="4.5" fill="#ddcba4"/><circle cx="285.7" cy="235.0" r="4.5" fill="#dac6a1"/><circle cx="289.3" cy="237.7" r="4.5" fill="#ebebbe"/><circle cx="293.0" cy="192.6" r="4.5" fill="#e7e5b2"/><circle cx="295.8" cy="190.8" r="4.5" fill="#e7e5b2"/><circle cx="298.6" cy="188.9" r="4.5" fill="#e7e5b2"/><circle cx="303.2" cy="187.1" r="4.5" fill="#e7e5b2"/><circle cx="306.9" cy="188.0" r="4.5" fill="#e7e5b2"/><circle cx="311.4" cy="189.9" r="4.5" fill="#f5f5e1"/><circle cx="333.6" cy="200.9" r="4.5" fill="#b17474"/><circle cx="353.8" cy="186.2" r="4.5" fill="#e7e5b2"/><circle cx="352.9" cy="190.8" r="4.5" fill="#e7e5b2"/><circle cx="351.0" cy="195.4" r="4.5" fill="#cda08e"/><circle cx="349.2" cy="200.0" r="4.5" fill="#cda08e"/><circle cx="347.4" cy="203.7" r="4.5" fill="#cda08e"/><circle cx="343.7" cy="212.5" r="4.5" fill="#b17474"/><circle cx="341.8" cy="218.4" r="4.5" fill="#e7e5b2"/><circle cx="343.5" cy="224.0" r="4.5" fill="#ca998b"/><circle cx="340.9" cy="223.9" r="4.5" fill="#e7e5b2"/><circle cx="339.1" cy="228.5" r="4.5" fill="#e9e9b6"/><circle cx="342.8" cy="233.1" r="4.5" fill="#ca998b"/><circle cx="340.9" cy="240.5" r="4.5" fill="#e7e5b2"/><circle cx="341.8" cy="245.1" r="4.5" fill="#e7e5b2"/><circle cx="343.7" cy="250.6" r="4.5" fill="#e7e5b2"/><circle cx="282.4" cy="270.0" r="4.5" fill="#fefefc"/></g>
<use href="#over"/>
<text x="395.2" y="66" textLength="33" lengthAdjust="spacingAndGlyphs" font-size="27" fill="#000" stroke="#000" stroke-width="0.35">(b)</text>
</g>
<rect x="564.45" y="32.95" width="333.95" height="383.50" fill="none" stroke="#000" stroke-width="2.9" stroke-linejoin="round"/>
<rect x="448.3" y="378.26" width="19.7" height="38.64" fill="#0078BE"/>
<rect x="448.3" y="339.92" width="19.7" height="38.64" fill="#0583C6"/>
<rect x="448.3" y="301.58" width="19.7" height="38.64" fill="#0B8DCB"/>
<rect x="448.3" y="263.24" width="19.7" height="38.64" fill="#2297D2"/>
<rect x="448.3" y="224.90" width="19.7" height="38.64" fill="#5CABDB"/>
<rect x="448.3" y="186.56" width="19.7" height="38.64" fill="#82BBE2"/>
<rect x="448.3" y="148.22" width="19.7" height="38.64" fill="#A9CFEA"/>
<rect x="448.3" y="109.88" width="19.7" height="38.64" fill="#CDDDEF"/>
<rect x="448.3" y="71.54" width="19.7" height="38.64" fill="#E6ECF4"/>
<rect x="448.3" y="33.20" width="19.7" height="38.64" fill="#F2F5F9"/>
<rect x="448.3" y="33.2" width="19.7" height="383.4" fill="none" stroke="#5a5a5a" stroke-width="0.8"/>
<text x="473.7" y="421.40" textLength="7.6" lengthAdjust="spacingAndGlyphs" font-size="13.3" fill="#262626">0</text>
<line x1="464.2" y1="378.26" x2="468.0" y2="378.26" stroke="#333" stroke-width="0.8"/>
<text x="473.7" y="383.06" textLength="20.4" lengthAdjust="spacingAndGlyphs" font-size="13.3" fill="#262626">0.1</text>
<line x1="464.2" y1="339.92" x2="468.0" y2="339.92" stroke="#333" stroke-width="0.8"/>
<text x="473.7" y="344.72" textLength="20.4" lengthAdjust="spacingAndGlyphs" font-size="13.3" fill="#262626">0.2</text>
<line x1="464.2" y1="301.58" x2="468.0" y2="301.58" stroke="#333" stroke-width="0.8"/>
<text x="473.7" y="306.38" textLength="20.4" lengthAdjust="spacingAndGlyphs" font-size="13.3" fill="#262626">0.3</text>
<line x1="464.2" y1="263.24" x2="468.0" y2="263.24" stroke="#333" stroke-width="0.8"/>
<text x="473.7" y="268.04" textLength="20.4" lengthAdjust="spacingAndGlyphs" font-size="13.3" fill="#262626">0.4</text>
<line x1="464.2" y1="224.90" x2="468.0" y2="224.90" stroke="#333" stroke-width="0.8"/>
<text x="473.7" y="229.70" textLength="20.4" lengthAdjust="spacingAndGlyphs" font-size="13.3" fill="#262626">0.5</text>
<line x1="464.2" y1="186.56" x2="468.0" y2="186.56" stroke="#333" stroke-width="0.8"/>
<text x="473.7" y="191.36" textLength="20.4" lengthAdjust="spacingAndGlyphs" font-size="13.3" fill="#262626">0.6</text>
<line x1="464.2" y1="148.22" x2="468.0" y2="148.22" stroke="#333" stroke-width="0.8"/>
<text x="473.7" y="153.02" textLength="20.4" lengthAdjust="spacingAndGlyphs" font-size="13.3" fill="#262626">0.7</text>
<line x1="464.2" y1="109.88" x2="468.0" y2="109.88" stroke="#333" stroke-width="0.8"/>
<text x="473.7" y="114.68" textLength="20.4" lengthAdjust="spacingAndGlyphs" font-size="13.3" fill="#262626">0.8</text>
<line x1="464.2" y1="71.54" x2="468.0" y2="71.54" stroke="#333" stroke-width="0.8"/>
<text x="473.7" y="76.34" textLength="20.4" lengthAdjust="spacingAndGlyphs" font-size="13.3" fill="#262626">0.9</text>
<text x="473.7" y="38.00" textLength="7.6" lengthAdjust="spacingAndGlyphs" font-size="13.3" fill="#262626">1</text>
<text transform="translate(515,225) rotate(-90)" text-anchor="middle" textLength="163.4" lengthAdjust="spacingAndGlyphs" font-size="15.6" fill="#262626">Ice Fraction (Imagery)</text>
<defs><linearGradient id="pk" x1="0" y1="0" x2="0" y2="1"><stop offset="0.000" stop-color="#000000"/><stop offset="0.025" stop-color="#322121"/><stop offset="0.050" stop-color="#472f2f"/><stop offset="0.075" stop-color="#573939"/><stop offset="0.100" stop-color="#654242"/><stop offset="0.125" stop-color="#704a4a"/><stop offset="0.150" stop-color="#7b5151"/><stop offset="0.175" stop-color="#855757"/><stop offset="0.200" stop-color="#8e5d5d"/><stop offset="0.225" stop-color="#976363"/><stop offset="0.250" stop-color="#9f6868"/><stop offset="0.275" stop-color="#a76d6d"/><stop offset="0.300" stop-color="#ae7272"/><stop offset="0.325" stop-color="#b57777"/><stop offset="0.350" stop-color="#bc7b7b"/><stop offset="0.375" stop-color="#c38080"/><stop offset="0.400" stop-color="#c68984"/><stop offset="0.425" stop-color="#c89288"/><stop offset="0.450" stop-color="#cb9a8c"/><stop offset="0.475" stop-color="#cea28f"/><stop offset="0.500" stop-color="#d0aa93"/><stop offset="0.525" stop-color="#d3b197"/><stop offset="0.550" stop-color="#d5b89a"/><stop offset="0.575" stop-color="#d8bf9e"/><stop offset="0.600" stop-color="#dac6a1"/><stop offset="0.625" stop-color="#ddcca5"/><stop offset="0.650" stop-color="#dfd2a8"/><stop offset="0.675" stop-color="#e2d8ab"/><stop offset="0.700" stop-color="#e4deae"/><stop offset="0.725" stop-color="#e6e3b1"/><stop offset="0.750" stop-color="#e9e9b4"/><stop offset="0.775" stop-color="#ebebbd"/><stop offset="0.800" stop-color="#ededc6"/><stop offset="0.825" stop-color="#f0f0ce"/><stop offset="0.850" stop-color="#f2f2d5"/><stop offset="0.875" stop-color="#f4f4dd"/><stop offset="0.900" stop-color="#f6f6e4"/><stop offset="0.925" stop-color="#f9f9eb"/><stop offset="0.950" stop-color="#fbfbf2"/><stop offset="0.975" stop-color="#fdfdf9"/><stop offset="1.000" stop-color="#ffffff"/></linearGradient></defs>
<rect x="908.3" y="33.2" width="19.7" height="383.4" fill="url(#pk)" stroke="#8a8a8a" stroke-width="0.9"/>
<text x="933.7" y="421.40" textLength="20.4" lengthAdjust="spacingAndGlyphs" font-size="13.3" fill="#262626">0.5</text>
<line x1="924.2" y1="374.00" x2="928.0" y2="374.00" stroke="#333" stroke-width="0.8"/>
<text x="933.7" y="378.80" textLength="7.6" lengthAdjust="spacingAndGlyphs" font-size="13.3" fill="#262626">1</text>
<line x1="924.2" y1="331.40" x2="928.0" y2="331.40" stroke="#333" stroke-width="0.8"/>
<text x="933.7" y="336.20" textLength="20.4" lengthAdjust="spacingAndGlyphs" font-size="13.3" fill="#262626">1.5</text>
<line x1="924.2" y1="288.80" x2="928.0" y2="288.80" stroke="#333" stroke-width="0.8"/>
<text x="933.7" y="293.60" textLength="7.6" lengthAdjust="spacingAndGlyphs" font-size="13.3" fill="#262626">2</text>
<line x1="924.2" y1="246.20" x2="928.0" y2="246.20" stroke="#333" stroke-width="0.8"/>
<text x="933.7" y="251.00" textLength="20.4" lengthAdjust="spacingAndGlyphs" font-size="13.3" fill="#262626">2.5</text>
<line x1="924.2" y1="203.60" x2="928.0" y2="203.60" stroke="#333" stroke-width="0.8"/>
<text x="933.7" y="208.40" textLength="7.6" lengthAdjust="spacingAndGlyphs" font-size="13.3" fill="#262626">3</text>
<line x1="924.2" y1="161.00" x2="928.0" y2="161.00" stroke="#333" stroke-width="0.8"/>
<text x="933.7" y="165.80" textLength="20.4" lengthAdjust="spacingAndGlyphs" font-size="13.3" fill="#262626">3.5</text>
<line x1="924.2" y1="118.40" x2="928.0" y2="118.40" stroke="#333" stroke-width="0.8"/>
<text x="933.7" y="123.20" textLength="7.6" lengthAdjust="spacingAndGlyphs" font-size="13.3" fill="#262626">4</text>
<line x1="924.2" y1="75.80" x2="928.0" y2="75.80" stroke="#333" stroke-width="0.8"/>
<text x="933.7" y="80.60" textLength="20.4" lengthAdjust="spacingAndGlyphs" font-size="13.3" fill="#262626">4.5</text>
<text x="933.7" y="38.00" textLength="7.6" lengthAdjust="spacingAndGlyphs" font-size="13.3" fill="#262626">5</text>
<text x="929" y="25.6" font-size="13.3" textLength="25.5" lengthAdjust="spacingAndGlyphs" fill="#262626">×10</text><text x="955.3" y="18.8" font-size="10.6" textLength="10.5" lengthAdjust="spacingAndGlyphs" fill="#262626">-3</text>
<g transform="translate(974,225) rotate(-90)" fill="#262626"><text x="-21.6" y="0" font-size="15.4" textLength="10.2" lengthAdjust="spacingAndGlyphs">C</text><text x="-10.6" y="7.4" font-size="13.2" textLength="31.6" lengthAdjust="spacingAndGlyphs">D10n</text></g>
</svg>
<div class="cap" style="top:442.0px"><b class="f">Figure&nbsp;1.</b> The cruise tracks of ACSE (leg 1, 5 July to 18 August 2014 (magenta) and leg 2, 21 August to 5 October (black)) and AO2016</div>
<div class="cap" style="top:464.5px">(8 August to 19 September 2016, (blue)) with <b>(a)</b> sea-ice fraction from in situ imagery and <b>(b)</b> <i>C</i><sub>D10n</sub>, for each 30&#8239;min flux period shown.</div>
<div class="cap" style="top:487.0px">The sea-ice extent from AMSR2 on 7 August 2014 (white) and 2016 (cyan) – about midway through ACSE and at the start of AO2016 – are</div>
<div class="cap" style="top:509.5px;text-align-last:left">shown for reference and to give an indication of the variability between years.</div>
</body></html>
